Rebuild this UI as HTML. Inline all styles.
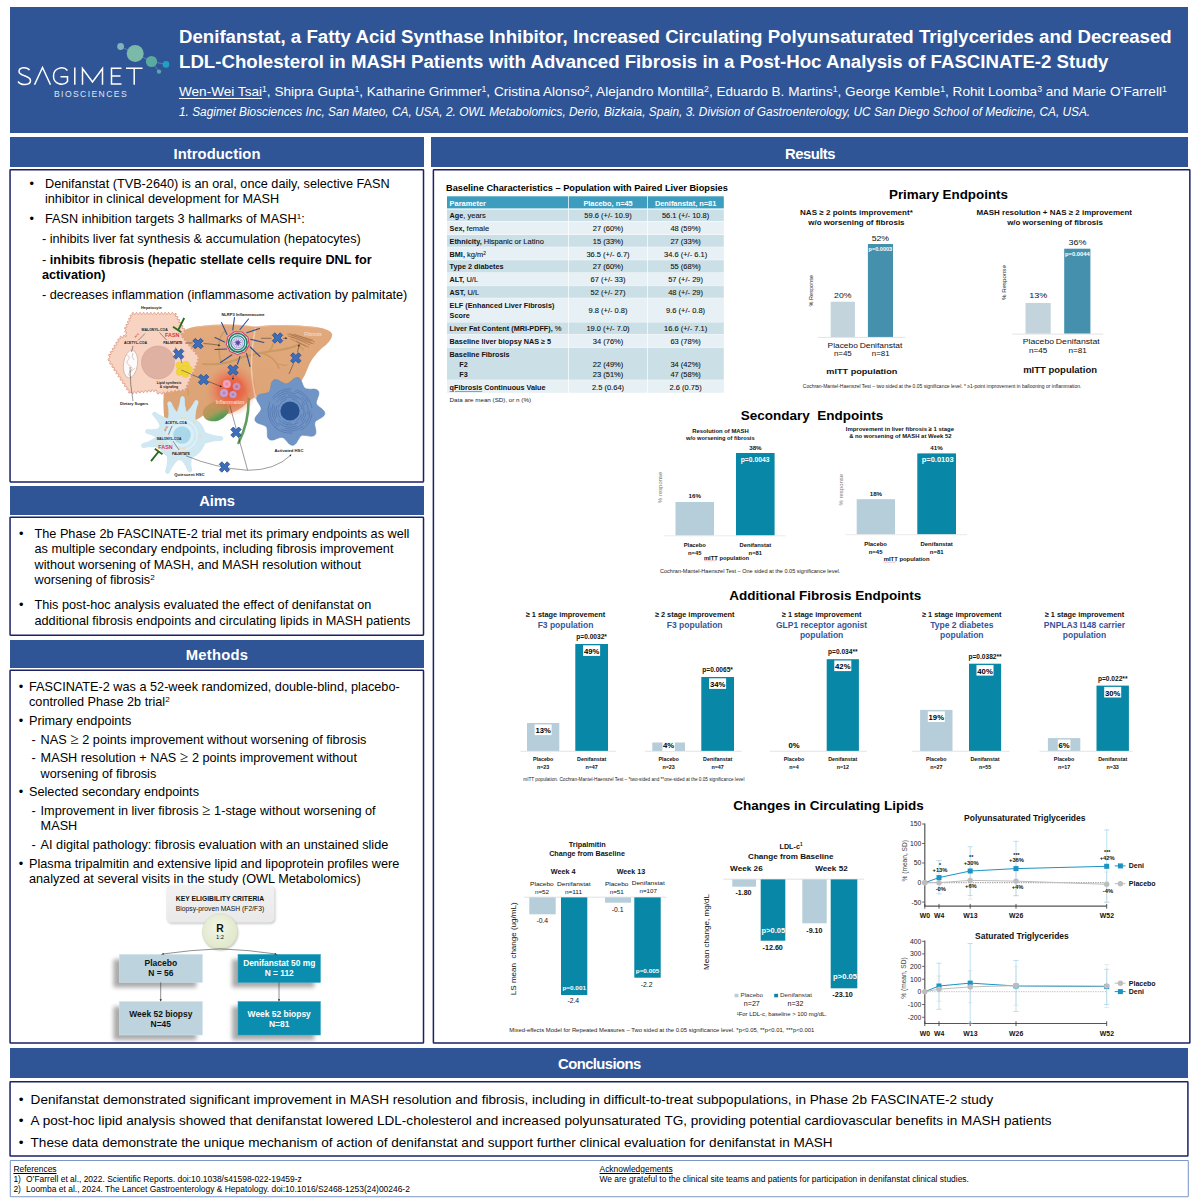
<!DOCTYPE html>
<html><head><meta charset="utf-8"><title>Poster</title>
<style>
html,body{margin:0;padding:0;background:#fff;}
body{width:1200px;height:1200px;position:relative;overflow:hidden;font-family:"Liberation Sans", sans-serif;color:#000;}
sup{font-size:64%;line-height:0;vertical-align:baseline;position:relative;top:-0.46em;}
svg text{font-family:"Liberation Sans", sans-serif;}
</style></head><body>
<div style="position:absolute;left:10px;top:7px;width:1178px;height:126px;background:#2F5597;"></div>
<div style="position:absolute;left:10px;top:137px;width:414px;height:30px;background:#2F5597;"></div>
<div style="position:absolute;left:431px;top:137px;width:757px;height:30px;background:#2F5597;"></div>
<div style="position:absolute;left:10px;top:486px;width:414px;height:28.5px;background:#2F5597;"></div>
<div style="position:absolute;left:10px;top:639.5px;width:414px;height:28.5px;background:#2F5597;"></div>
<div style="position:absolute;left:10px;top:1047.5px;width:1178px;height:30.5px;background:#2F5597;"></div>
<svg style="position:absolute;left:0;top:0" width="1200" height="1200" viewBox="0 0 1200 1200"><rect x="10.05" y="169.75" width="413.45" height="312.15" rx="0.6" fill="none" stroke="#1b2167" stroke-width="1.5"/><rect x="433.4" y="169.75" width="756.45" height="873.35" rx="0.6" fill="none" stroke="#1b2167" stroke-width="1.5"/><rect x="10.05" y="517.3" width="413.45" height="117.9" rx="0.6" fill="none" stroke="#1b2167" stroke-width="1.5"/><rect x="10.05" y="670.3" width="413.45" height="372.8" rx="0.6" fill="none" stroke="#1b2167" stroke-width="1.5"/><rect x="10.05" y="1081.8" width="1177.85" height="74.3" rx="0.6" fill="none" stroke="#1b2167" stroke-width="1.5"/><rect x="10.3" y="1160.5" width="1178" height="36.2" rx="0.6" fill="none" stroke="#7c98c8" stroke-width="1.05"/></svg>
<div style="position:absolute;top:146px;font-size:14.8px;line-height:16px;height:16px;white-space:nowrap;color:#fff;font-weight:bold;letter-spacing:0.06px;left:217px;transform:translateX(-50%);">Introduction</div>
<div style="position:absolute;top:146px;font-size:14.8px;line-height:16px;height:16px;white-space:nowrap;color:#fff;font-weight:bold;letter-spacing:-0.49px;left:810px;transform:translateX(-50%);">Results</div>
<div style="position:absolute;top:493px;font-size:14.8px;line-height:16px;height:16px;white-space:nowrap;color:#fff;font-weight:bold;letter-spacing:-0.17px;left:217px;transform:translateX(-50%);">Aims</div>
<div style="position:absolute;top:647px;font-size:14.8px;line-height:16px;height:16px;white-space:nowrap;color:#fff;font-weight:bold;letter-spacing:0.27px;left:217px;transform:translateX(-50%);">Methods</div>
<div style="position:absolute;top:1056px;font-size:14.8px;line-height:16px;height:16px;white-space:nowrap;color:#fff;font-weight:bold;letter-spacing:-0.55px;left:599.4px;transform:translateX(-50%);">Conclusions</div>
<div style="position:absolute;top:26px;font-size:18.65px;line-height:21px;height:21px;white-space:nowrap;color:#fff;font-weight:bold;left:179px;">Denifanstat, a Fatty Acid Synthase Inhibitor, Increased Circulating Polyunsaturated Triglycerides and Decreased</div>
<div style="position:absolute;top:51px;font-size:18.65px;line-height:21px;height:21px;white-space:nowrap;color:#fff;font-weight:bold;left:179px;">LDL-Cholesterol in MASH Patients with Advanced Fibrosis in a Post-Hoc Analysis of FASCINATE-2 Study</div>
<div style="position:absolute;top:84px;font-size:13.58px;line-height:15px;height:15px;white-space:nowrap;color:#fff;left:179px;"><span style="text-decoration:underline;text-underline-offset:2px">Wen-Wei Tsai</span><sup>1</sup>, Shipra Gupta<sup>1</sup>, Katharine Grimmer<sup>1</sup>, Cristina Alonso<sup>2</sup>, Alejandro Montilla<sup>2</sup>, Eduardo B. Martins<sup>1</sup>, George Kemble<sup>1</sup>, Rohit Loomba<sup>3</sup> and Marie O’Farrell<sup>1</sup></div>
<div style="position:absolute;top:105px;font-size:11.86px;line-height:14px;height:14px;white-space:nowrap;color:#fff;font-style:italic;left:179px;">1. Sagimet Biosciences Inc, San Mateo, CA, USA, 2. OWL Metabolomics, Derio, Bizkaia, Spain, 3. Division of Gastroenterology, UC San Diego School of Medicine, CA, USA.</div>
<svg style="position:absolute;left:0;top:0" width="200" height="135" viewBox="0 0 200 135">
<g stroke="#6aa8b0" stroke-width="0.7" opacity="0.8"><line x1="120.6" y1="46.5" x2="135" y2="53.5"/><line x1="135" y1="53.5" x2="151.5" y2="61.5"/><line x1="151.5" y1="61.5" x2="166" y2="64.4"/><line x1="151.5" y1="61.5" x2="159" y2="71.6"/></g>
<circle cx="120.6" cy="46.5" r="3.4" fill="#7fb4bb"/>
<circle cx="135.2" cy="53.5" r="8.5" fill="#7bb9a8"/>
<circle cx="151.5" cy="61.5" r="5.6" fill="#5aaaa0"/>
<circle cx="166" cy="64.4" r="3.3" fill="#1fa1bf"/>
<circle cx="159" cy="71.6" r="2.2" fill="#5fa6aa"/>
<g fill="none" stroke="#fff" stroke-width="1.5" stroke-linecap="butt" stroke-linejoin="miter">
<path d="M29.5 70.2 C27 66.5 19 66.8 19 71.5 C19 76.5 30.5 75 30.5 80.5 C30.5 85.5 21 85.8 18 81.5"/>
<path d="M34.5 84.8 L42.5 67.5 L50.5 84.8"/>
<path d="M67.5 70.5 C63 65.5 53.5 68 53.5 76 C53.5 84.5 63.5 86.5 67.5 81.5 L67.5 76.8 L60.5 76.8"/>
<path d="M74.8 67.5 L74.8 84.8"/>
<path d="M82.5 84.8 L82.5 68.5 L92.5 82 L102.5 68.5 L102.5 84.8"/>
<path d="M121.5 68.2 L111.5 68.2 L111.5 84 L121.5 84 M111.5 76 L120.5 76"/>
<path d="M126 68.2 L142.5 68.2 M134.2 68.2 L134.2 84.8"/>
</g>
<text x="91" y="97.3" text-anchor="middle" fill="#dfe6f3" font-size="8.6" letter-spacing="1.35" textLength="74" lengthAdjust="spacing">BIOSCIENCES</text>
</svg>
<div style="position:absolute;top:177px;font-size:12.7px;line-height:14px;height:14px;white-space:nowrap;color:#000;left:29.5px;">•</div>
<div style="position:absolute;top:177px;font-size:12.7px;line-height:14px;height:14px;white-space:nowrap;color:#000;left:45px;">Denifanstat (TVB-2640) is an oral, once daily, selective FASN</div>
<div style="position:absolute;top:192px;font-size:12.7px;line-height:14px;height:14px;white-space:nowrap;color:#000;left:45px;">inhibitor in clinical development for MASH</div>
<div style="position:absolute;top:212px;font-size:12.7px;line-height:14px;height:14px;white-space:nowrap;color:#000;left:29.5px;">•</div>
<div style="position:absolute;top:212px;font-size:12.7px;line-height:14px;height:14px;white-space:nowrap;color:#000;left:45px;">FASN inhibition targets 3 hallmarks of MASH<sup>1</sup>:</div>
<div style="position:absolute;top:232px;font-size:12.7px;line-height:14px;height:14px;white-space:nowrap;color:#000;left:42px;">- inhibits liver fat synthesis &amp; accumulation (hepatocytes)</div>
<div style="position:absolute;top:253px;font-size:12.7px;line-height:14px;height:14px;white-space:nowrap;color:#000;left:42px;">- <b>inhibits fibrosis (hepatic stellate cells require DNL for</b></div>
<div style="position:absolute;top:268px;font-size:12.7px;line-height:14px;height:14px;white-space:nowrap;color:#000;font-weight:bold;left:42px;">activation)</div>
<div style="position:absolute;top:288px;font-size:12.7px;line-height:14px;height:14px;white-space:nowrap;color:#000;left:42px;">- decreases inflammation (inflammasome activation by palmitate)</div>
<div style="position:absolute;top:527px;font-size:12.7px;line-height:14px;height:14px;white-space:nowrap;color:#000;left:19px;">•</div>
<div style="position:absolute;top:527px;font-size:12.7px;line-height:14px;height:14px;white-space:nowrap;color:#000;left:34.5px;">The Phase 2b FASCINATE-2 trial met its primary endpoints as well</div>
<div style="position:absolute;top:542px;font-size:12.7px;line-height:14px;height:14px;white-space:nowrap;color:#000;left:34.5px;">as multiple secondary endpoints, including fibrosis improvement</div>
<div style="position:absolute;top:558px;font-size:12.7px;line-height:14px;height:14px;white-space:nowrap;color:#000;left:34.5px;">without worsening of MASH, and MASH resolution without</div>
<div style="position:absolute;top:573px;font-size:12.7px;line-height:14px;height:14px;white-space:nowrap;color:#000;left:34.5px;">worsening of fibrosis<sup>2</sup></div>
<div style="position:absolute;top:598px;font-size:12.7px;line-height:14px;height:14px;white-space:nowrap;color:#000;left:19px;">•</div>
<div style="position:absolute;top:598px;font-size:12.7px;line-height:14px;height:14px;white-space:nowrap;color:#000;left:34.5px;">This post-hoc analysis evaluated the effect of denifanstat on</div>
<div style="position:absolute;top:614px;font-size:12.7px;line-height:14px;height:14px;white-space:nowrap;color:#000;left:34.5px;">additional fibrosis endpoints and circulating lipids in MASH patients</div>
<div style="position:absolute;top:680px;font-size:12.7px;line-height:14px;height:14px;white-space:nowrap;color:#000;left:18.7px;">•</div>
<div style="position:absolute;top:680px;font-size:12.7px;line-height:14px;height:14px;white-space:nowrap;color:#000;left:29px;">FASCINATE-2 was a 52-week randomized, double-blind, placebo-</div>
<div style="position:absolute;top:695px;font-size:12.7px;line-height:14px;height:14px;white-space:nowrap;color:#000;left:29px;">controlled Phase 2b trial<sup>2</sup></div>
<div style="position:absolute;top:714px;font-size:12.7px;line-height:14px;height:14px;white-space:nowrap;color:#000;left:18.7px;">•</div>
<div style="position:absolute;top:714px;font-size:12.7px;line-height:14px;height:14px;white-space:nowrap;color:#000;left:29px;">Primary endpoints</div>
<div style="position:absolute;top:733px;font-size:12.7px;line-height:14px;height:14px;white-space:nowrap;color:#000;left:31.6px;">-</div>
<div style="position:absolute;top:733px;font-size:12.7px;line-height:14px;height:14px;white-space:nowrap;color:#000;left:40.6px;">NAS <span style="font-family:'Liberation Serif',serif;font-size:15.5px;line-height:0">≥</span> 2 points improvement without worsening of fibrosis</div>
<div style="position:absolute;top:751px;font-size:12.7px;line-height:14px;height:14px;white-space:nowrap;color:#000;left:31.6px;">-</div>
<div style="position:absolute;top:751px;font-size:12.7px;line-height:14px;height:14px;white-space:nowrap;color:#000;left:40.6px;">MASH resolution + NAS <span style="font-family:'Liberation Serif',serif;font-size:15.5px;line-height:0">≥</span> 2 points improvement without</div>
<div style="position:absolute;top:767px;font-size:12.7px;line-height:14px;height:14px;white-space:nowrap;color:#000;left:40.6px;">worsening of fibrosis</div>
<div style="position:absolute;top:785px;font-size:12.7px;line-height:14px;height:14px;white-space:nowrap;color:#000;left:18.7px;">•</div>
<div style="position:absolute;top:785px;font-size:12.7px;line-height:14px;height:14px;white-space:nowrap;color:#000;left:29px;">Selected secondary endpoints</div>
<div style="position:absolute;top:804px;font-size:12.7px;line-height:14px;height:14px;white-space:nowrap;color:#000;left:31.6px;">-</div>
<div style="position:absolute;top:804px;font-size:12.7px;line-height:14px;height:14px;white-space:nowrap;color:#000;left:40.6px;">Improvement in liver fibrosis <span style="font-family:'Liberation Serif',serif;font-size:15.5px;line-height:0">≥</span> 1-stage without worsening of</div>
<div style="position:absolute;top:819px;font-size:12.7px;line-height:14px;height:14px;white-space:nowrap;color:#000;left:40.6px;">MASH</div>
<div style="position:absolute;top:838px;font-size:12.7px;line-height:14px;height:14px;white-space:nowrap;color:#000;left:31.6px;">-</div>
<div style="position:absolute;top:838px;font-size:12.7px;line-height:14px;height:14px;white-space:nowrap;color:#000;left:40.6px;">AI digital pathology: fibrosis evaluation with an unstained slide</div>
<div style="position:absolute;top:857px;font-size:12.7px;line-height:14px;height:14px;white-space:nowrap;color:#000;left:18.7px;">•</div>
<div style="position:absolute;top:857px;font-size:12.7px;line-height:14px;height:14px;white-space:nowrap;color:#000;left:29px;">Plasma tripalmitin and extensive lipid and lipoprotein profiles were</div>
<div style="position:absolute;top:872px;font-size:12.7px;line-height:14px;height:14px;white-space:nowrap;color:#000;left:29px;">analyzed at several visits in the study (OWL Metabolomics)</div>
<svg style="position:absolute;left:100px;top:875px" width="240" height="168" viewBox="100 875 240 168">
<defs>
<filter id="sh1" x="-20%" y="-20%" width="140%" height="150%"><feGaussianBlur stdDeviation="1.3"/></filter><filter id="sh2" x="-20%" y="-30%" width="140%" height="160%"><feGaussianBlur stdDeviation="2"/></filter>
<radialGradient id="rg" cx="0.45" cy="0.4" r="0.6"><stop offset="0" stop-color="#f3f6e6"/><stop offset="1" stop-color="#dfe7c9"/></radialGradient>
<linearGradient id="kg" x1="0" y1="0" x2="0" y2="1"><stop offset="0" stop-color="#f2f2f2"/><stop offset="1" stop-color="#e9e9e9"/></linearGradient>
</defs>
<rect x="167.4" y="886.5" width="108" height="37.4" rx="4.5" fill="#000" opacity="0.2" filter="url(#sh1)"/>
<rect x="166.4" y="885" width="108" height="37.4" rx="4.5" fill="url(#kg)"/>
<circle cx="220.6" cy="932.8" r="17.6" fill="#000" opacity="0.25" filter="url(#sh1)"/>
<circle cx="220" cy="931.6" r="17.6" fill="url(#rg)" stroke="#d3dcbc" stroke-width="0.5"/>
<g fill="#000" opacity="0.33" filter="url(#sh2)">
<rect x="113.4" y="959.4" width="83" height="28"/><rect x="232" y="959.4" width="82.4" height="28"/>
<rect x="113.4" y="1006.6" width="83" height="33.4"/><rect x="232" y="1006.6" width="82.4" height="33.4"/>
</g>
<rect x="119.4" y="954.4" width="83" height="28" fill="#bdd4df" stroke="#cfe2ea" stroke-width="0.6"/>
<rect x="238" y="954.4" width="82.4" height="28" fill="#0a8dae" stroke="#36a6c2" stroke-width="0.6"/>
<rect x="119.4" y="1001.6" width="83" height="33.4" fill="#bdd4df" stroke="#cfe2ea" stroke-width="0.6"/>
<rect x="238" y="1001.6" width="82.4" height="33.4" fill="#0a8dae" stroke="#36a6c2" stroke-width="0.6"/>
<g fill="none" stroke="#222" stroke-width="0.5">
<path d="M220 948.8 Q190 950 162.5 954"/><path d="M220 948.8 Q250 950 276 954"/>
<path d="M160.7 982.4 V1000.5"/><path d="M279 982.4 V1000.5"/>
</g>
<g fill="#222"><path d="M161 954.6 l2.6 -1.6 l0.3 1.6z"/><path d="M277.5 954.6 l-2.6 -1.6 l-0.3 1.6z"/><path d="M160.7 1001.6 l-1.1 -2.4 h2.2z"/><path d="M279 1001.6 l-1.1 -2.4 h2.2z"/></g>
<g font-weight="bold" text-anchor="middle">
<text x="220" y="901.4" font-size="6.76" fill="#111">KEY ELIGIBILITY CRITERIA</text>
<text x="220" y="910.6" font-size="6.74" font-weight="normal" fill="#111">Biopsy-proven MASH (F2/F3)</text>
<text x="220" y="931.5" font-size="10.4" fill="#111">R</text>
<text x="220" y="939.4" font-size="5.8" font-weight="normal" fill="#111">1:2</text>
<text x="160.8" y="966" font-size="8.5" fill="#111">Placebo</text>
<text x="160.8" y="976" font-size="8.5" fill="#111">N = 56</text>
<text x="279.2" y="966" font-size="8.4" fill="#fff">Denifanstat 50 mg</text>
<text x="279.2" y="976" font-size="8.4" fill="#fff">N = 112</text>
<text x="160.8" y="1016.6" font-size="8.45" fill="#111">Week 52 biopsy</text>
<text x="160.8" y="1026.6" font-size="8.45" fill="#111">N=45</text>
<text x="279.2" y="1016.6" font-size="8.45" fill="#fff">Week 52 biopsy</text>
<text x="279.2" y="1026.6" font-size="8.45" fill="#fff">N=81</text>
</g>
</svg>
<svg style="position:absolute;left:100px;top:300px" width="240" height="181" viewBox="100 300 240 181">
<defs>
<radialGradient id="infl" cx="0.5" cy="0.5" r="0.5"><stop offset="0" stop-color="#e9492f" stop-opacity="0.95"/><stop offset="0.45" stop-color="#ec5a3c" stop-opacity="0.75"/><stop offset="1" stop-color="#f08060" stop-opacity="0"/></radialGradient>
<linearGradient id="gb" x1="0.3" y1="0" x2="0.6" y2="1"><stop offset="0" stop-color="#c9955c"/><stop offset="0.55" stop-color="#a89a58"/><stop offset="0.8" stop-color="#5f9f57"/><stop offset="1" stop-color="#4f9550"/></linearGradient>
<linearGradient id="lv" x1="0" y1="0" x2="0" y2="1"><stop offset="0" stop-color="#e2a97d"/><stop offset="1" stop-color="#dba274"/></linearGradient>
</defs>
<!-- liver -->
<path d="M170 345 Q176 330 196 326.5 Q225 322.5 252 326.2 Q256 326.8 259 326.3 Q285 323.5 316 327 Q331 329 332.3 334.5 Q332 341 322 348 Q311 358 307 370 Q303 381 296 386 L258 396 Q252 398 247 403 Q238 412 228 414 L204 415 Q200 418 196 420 L164.5 421 Q162 400 165 380 Q166 360 170 345Z" fill="url(#lv)"/>
<path d="M196 327 Q225 323 252 326.5 M259 326.6 Q285 324 316 327.5" fill="none" stroke="#ecbd97" stroke-width="1.2" opacity="0.8"/>
<!-- veins -->
<g fill="none" stroke="#cb9a60" stroke-linecap="round">
<path d="M203 364 Q225 366 243 357 Q262 352 280 350 Q292 348 300 344" stroke-width="2"/>
<path d="M262 353 Q275 357 279 368" stroke-width="1.7"/>
<path d="M273 344 Q272 349 268 352" stroke-width="1.4"/>
<path d="M225 331 Q219 336 219 346 Q219 356 221 362" stroke-width="1.6"/>
<path d="M279 364 Q284 366 287 365" stroke-width="1.2"/>
<path d="M300 347 Q304 349 303 350" stroke-width="1.2"/>
<path d="M186 385 Q189 390 188 395" stroke-width="1.2"/>
</g>
<path d="M255.5 328 Q251 350 251.5 370 Q252 385 256 399" fill="none" stroke="#f1cbb0" stroke-width="1.4"/>
<!-- gallbladder + duct -->
<ellipse cx="215.8" cy="411.3" rx="13.2" ry="9.6" transform="rotate(-18 215.8 411.3)" fill="url(#gb)"/>
<path d="M248.6 399 Q249 422 238.5 443" fill="none" stroke="#5f9e5c" stroke-width="2.6" stroke-linecap="round"/>
<path d="M233 374 Q246 384 247.5 402" fill="none" stroke="#d98a5c" stroke-width="2" opacity="0.55"/>
<!-- inflammation glow -->
<circle cx="231.5" cy="390" r="26" fill="url(#infl)"/>
<circle cx="226.8" cy="384" r="4" fill="#f2a3bd" stroke="#e58fb0" stroke-width="0.4"/><circle cx="226.8" cy="384" r="1.7" fill="#ea7fa6" opacity="0.7"/>
<circle cx="236.6" cy="386.5" r="3.8" fill="#cf95b8" stroke="#c183ac" stroke-width="0.4"/><circle cx="236.6" cy="386.5" r="1.6" fill="#a86aa0" opacity="0.7"/>
<circle cx="224" cy="393" r="4" fill="#c9a3cf" stroke="#b890c2" stroke-width="0.4"/><circle cx="224" cy="393" r="1.7" fill="#a67cb6" opacity="0.7"/>
<circle cx="233" cy="394.5" r="3.5" fill="#c2a2d3" stroke="#b08fc6" stroke-width="0.4"/><circle cx="233" cy="394.5" r="1.5" fill="#9a78bd" opacity="0.7"/>
<!-- hepatocyte -->
<path d="M132.0 313.5 L132.6 312.5 L133.2 312.5 L133.8 313.5 L134.4 314.5 L135.0 314.5 L135.6 313.5 L136.2 312.5 L136.8 312.5 L137.4 313.5 L138.0 314.5 L138.6 314.5 L139.2 313.5 L139.8 312.5 L140.4 312.5 L141.0 313.5 L141.6 314.5 L142.2 314.5 L142.8 313.5 L143.3 312.5 L143.9 312.5 L144.5 313.5 L145.1 314.5 L145.7 314.5 L146.3 313.5 L146.9 312.5 L147.5 312.5 L148.1 313.5 L148.7 314.5 L149.3 314.5 L149.9 313.5 L150.5 312.5 L151.1 312.5 L151.7 313.5 L152.3 314.5 L152.9 314.5 L153.5 313.5 L154.1 312.5 L154.7 312.5 L155.3 313.5 L155.9 314.5 L156.5 314.5 L157.1 313.5 L157.7 312.5 L158.3 312.5 L158.9 313.5 L159.5 314.5 L160.1 314.5 L160.7 313.5 L161.3 312.5 L161.9 312.5 L162.5 313.5 L163.1 314.5 L163.7 314.5 L164.2 313.5 L164.8 312.5 L165.4 312.5 L166.0 313.5 L166.6 314.5 L167.2 314.5 L167.8 313.5 L168.4 312.5 L169.0 312.5 L169.6 313.5 L170.2 314.5 L170.8 314.5 L171.4 313.5 L172.0 312.5 L172.6 312.5 L173.2 313.5 L173.8 314.5 L174.4 314.5 L175.0 313.5 L176.1 313.5 L176.4 314.0 L175.8 315.0 L175.3 316.0 L175.6 316.5 L176.7 316.5 L177.8 316.5 L178.1 317.0 L177.5 318.0 L176.9 319.0 L177.2 319.5 L178.3 319.5 L179.4 319.5 L179.7 320.0 L179.2 321.0 L178.6 322.0 L178.9 322.5 L180.0 322.5 L181.1 322.5 L181.4 323.0 L180.8 324.0 L180.3 325.0 L180.6 325.5 L181.7 325.5 L182.8 325.5 L183.1 326.0 L182.5 327.0 L181.9 328.0 L182.2 328.5 L183.3 328.5 L184.4 328.5 L184.7 329.0 L184.2 330.0 L183.6 331.0 L183.9 331.5 L185.0 331.5 L185.0 332.8 L184.3 333.4 L183.0 333.2 L181.7 333.1 L181.0 333.7 L181.0 335.0 L182.1 334.9 L182.5 335.3 L182.1 336.4 L181.8 337.4 L182.1 337.9 L183.2 337.8 L184.4 337.6 L184.7 338.1 L184.4 339.1 L184.0 340.2 L184.4 340.6 L185.5 340.5 L186.6 340.4 L187.0 340.8 L186.6 341.9 L186.3 342.9 L186.6 343.4 L187.8 343.2 L188.9 343.1 L189.2 343.6 L188.9 344.6 L188.5 345.7 L188.9 346.1 L190.0 346.0 L191.1 345.9 L191.5 346.3 L191.1 347.4 L190.8 348.4 L191.1 348.9 L192.2 348.8 L193.4 348.6 L193.7 349.1 L193.4 350.1 L193.0 351.2 L193.4 351.6 L194.5 351.5 L195.6 351.4 L196.0 351.8 L195.6 352.9 L195.3 353.9 L195.6 354.4 L196.8 354.2 L197.9 354.1 L198.2 354.6 L197.9 355.6 L197.5 356.7 L197.9 357.1 L199.0 357.0 L199.7 357.8 L199.6 358.4 L198.5 358.8 L197.4 359.1 L197.3 359.7 L198.0 360.5 L198.7 361.3 L198.6 361.9 L197.5 362.2 L196.4 362.6 L196.3 363.2 L197.0 364.0 L197.6 364.9 L197.4 365.5 L196.3 365.6 L195.2 365.8 L194.9 366.3 L195.6 367.2 L196.2 368.2 L196.0 368.7 L194.8 368.9 L193.7 369.0 L193.5 369.6 L194.1 370.5 L194.8 371.4 L194.5 372.0 L193.4 372.1 L192.3 372.3 L192.1 372.8 L192.7 373.8 L193.3 374.7 L193.1 375.2 L192.0 375.4 L190.9 375.5 L190.6 376.1 L191.2 377.0 L191.9 377.9 L191.6 378.5 L190.5 378.6 L189.4 378.8 L189.2 379.3 L189.8 380.2 L190.4 381.2 L190.2 381.7 L189.1 381.9 L188.0 382.0 L187.7 382.6 L188.4 383.5 L189.0 384.4 L188.8 385.0 L187.7 385.1 L186.5 385.3 L186.3 385.8 L186.9 386.8 L187.6 387.7 L187.3 388.2 L186.2 388.4 L185.1 388.5 L184.9 389.1 L185.5 390.0 L185.0 391.0 L184.4 391.1 L183.6 390.2 L182.9 389.4 L182.2 389.5 L181.7 390.5 L181.2 391.5 L180.6 391.6 L179.8 390.8 L179.1 389.9 L178.4 390.0 L177.9 391.0 L177.4 392.0 L176.8 392.1 L176.0 391.2 L175.3 390.4 L174.6 390.5 L174.1 391.5 L173.6 392.5 L173.0 392.6 L172.2 391.8 L171.5 390.9 L170.9 391.0 L170.4 392.0 L169.9 393.0 L169.2 393.1 L168.5 392.2 L167.7 391.4 L167.1 391.5 L166.6 392.5 L166.1 393.5 L165.4 393.6 L164.7 392.8 L163.9 391.9 L163.3 392.0 L162.8 393.0 L162.3 394.0 L161.6 394.1 L160.9 393.2 L160.1 392.4 L159.5 392.5 L159.0 393.5 L157.8 393.8 L157.1 393.3 L157.0 392.0 L156.9 390.7 L156.2 390.2 L155.0 390.5 L154.5 391.5 L153.9 391.6 L153.2 390.7 L152.5 389.8 L151.9 389.8 L151.4 390.9 L150.9 391.9 L150.3 391.9 L149.6 391.0 L149.0 390.1 L148.4 390.2 L147.9 391.2 L147.4 392.2 L146.8 392.3 L146.1 391.4 L145.4 390.5 L144.8 390.6 L144.3 391.6 L143.8 392.6 L143.2 392.6 L142.5 391.8 L141.8 390.9 L141.2 390.9 L140.7 391.9 L140.2 392.9 L139.6 393.0 L138.9 392.1 L138.2 391.2 L137.6 391.3 L137.1 392.3 L136.6 393.3 L136.0 393.4 L135.4 392.5 L134.7 391.6 L134.1 391.6 L133.6 392.6 L133.1 393.7 L132.5 393.7 L131.8 392.8 L131.1 391.9 L130.5 392.0 L130.0 393.0 L128.9 393.0 L128.5 392.5 L128.9 391.4 L129.4 390.3 L129.0 389.8 L127.9 389.8 L126.8 389.8 L126.4 389.3 L126.8 388.2 L127.3 387.1 L126.9 386.6 L125.8 386.6 L124.7 386.6 L124.3 386.1 L124.8 385.0 L125.2 383.9 L124.8 383.4 L123.7 383.4 L122.6 383.4 L122.2 382.9 L122.7 381.8 L123.1 380.7 L122.7 380.2 L121.6 380.2 L120.5 380.2 L120.1 379.7 L120.5 378.6 L121.0 377.5 L120.6 377.0 L119.5 377.0 L118.4 377.0 L118.0 376.5 L118.5 375.4 L118.9 374.3 L118.5 373.8 L117.4 373.8 L116.3 373.8 L115.9 373.3 L116.3 372.2 L116.8 371.1 L116.4 370.6 L115.3 370.6 L114.2 370.6 L113.8 370.1 L114.2 369.0 L114.7 367.9 L114.3 367.4 L113.2 367.4 L112.1 367.4 L111.7 366.9 L112.2 365.8 L112.6 364.7 L112.2 364.2 L111.1 364.2 L110.0 364.2 L109.6 363.7 L110.0 362.6 L110.5 361.5 L110.1 361.0 L109.0 361.0 L108.0 360.2 L108.0 359.3 L109.0 358.5 L110.0 357.7 L110.0 356.8 L109.0 356.0 L108.5 355.0 L108.8 354.5 L109.9 354.5 L111.0 354.4 L111.3 353.9 L110.8 352.9 L110.3 351.9 L110.6 351.4 L111.8 351.4 L112.9 351.3 L113.2 350.8 L112.7 349.8 L112.2 348.8 L112.5 348.3 L113.6 348.3 L114.7 348.3 L115.0 347.8 L114.5 346.8 L114.0 345.7 L114.3 345.2 L115.4 345.2 L116.5 345.2 L116.8 344.7 L116.3 343.7 L115.8 342.7 L116.1 342.2 L117.2 342.1 L118.4 342.1 L118.7 341.6 L118.2 340.6 L117.7 339.6 L118.0 339.1 L119.1 339.0 L120.2 339.0 L120.5 338.5 L120.0 337.5 L120.3 336.4 L120.8 336.3 L121.6 337.0 L122.4 337.7 L123.0 337.6 L123.2 336.5 L123.5 335.4 L124.1 335.3 L124.9 336.0 L125.7 336.7 L126.2 336.6 L126.5 335.5 L125.4 335.2 L125.3 334.6 L126.1 333.9 L126.9 333.1 L126.8 332.6 L125.8 332.2 L124.7 331.9 L124.6 331.4 L125.4 330.6 L126.2 329.9 L126.1 329.3 L125.0 329.0 L124.4 328.1 L124.6 327.6 L125.7 327.4 L126.8 327.3 L127.0 326.8 L126.4 325.9 L125.8 325.0 L126.0 324.5 L127.1 324.4 L128.2 324.2 L128.4 323.7 L127.8 322.8 L127.2 321.9 L127.4 321.4 L128.5 321.2 L129.6 321.1 L129.8 320.6 L129.2 319.7 L128.6 318.8 L128.8 318.3 L129.9 318.1 L131.0 318.0 L131.2 317.5 L130.6 316.6 L130.0 315.7 L130.2 315.2 L131.3 315.1 L132.4 314.9 L132.6 314.4Z" fill="#f8d3c2" stroke="#dc9c83" stroke-width="0.9" stroke-linejoin="round"/>
<circle cx="158" cy="362.5" r="16.5" fill="#deb1a3" stroke="#d3a294" stroke-width="0.6"/>
<ellipse cx="130.5" cy="364" rx="7" ry="14" transform="rotate(8 130.5 364)" fill="#fdfafa" stroke="#c9aaa2" stroke-width="0.7"/>
<path d="M127 355 q4 2 1 5 q-3 3 2 6 q4 2 0 6 q-3 3 2 6 M133 353 q-2 4 1 7 M129 372 q4 -1 6 -4" fill="none" stroke="#c9aaa2" stroke-width="0.6"/>
<g fill="#f1d53d" stroke="#e3c22e" stroke-width="0.3"><circle cx="179.5" cy="365.5" r="3.6"/><circle cx="186" cy="364.8" r="3.5"/><circle cx="189" cy="369.5" r="3.6"/><circle cx="179.6" cy="372" r="3.6"/><circle cx="185.5" cy="374" r="3.6"/><circle cx="184" cy="369" r="3.4"/></g>
<!-- quiescent HSC -->
<g fill="#cfe8f2" stroke="#b9dcea" stroke-width="0.5"><path d="M191.7 423.6 Q184.1 410.9 184.4 398.6 A1.9 1.9 0 0 0 180.6 398.4 Q179.6 410.6 170.7 422.5Z"/><path d="M195.9 428.6 Q193.5 414.1 198.2 402.8 A1.9 1.9 0 0 0 194.8 401.2 Q189.3 412.2 176.8 419.9Z"/><path d="M194.1 448.0 Q207.7 440.3 220.9 440.4 A1.9 1.9 0 0 0 221.1 436.6 Q207.8 435.7 194.9 427.0Z"/><path d="M174.1 453.3 Q184.8 461.1 188.0 471.0 A1.9 1.9 0 0 0 191.6 470.0 Q189.2 459.9 194.4 447.7Z"/><path d="M165.7 446.4 Q169.4 460.0 165.7 470.8 A1.9 1.9 0 0 0 169.3 472.2 Q173.7 461.6 185.4 453.8Z"/><path d="M164.5 429.9 Q154.7 440.6 143.1 443.6 A1.9 1.9 0 0 0 143.9 447.4 Q155.7 445.0 169.2 450.4Z"/><path d="M168.4 424.3 Q157.5 430.9 147.8 429.6 A1.9 1.9 0 0 0 147.2 433.4 Q156.7 435.3 165.0 445.1Z"/><path d="M177.0 419.9 Q163.8 419.2 155.8 412.6 A1.9 1.9 0 0 0 153.2 415.4 Q160.7 422.6 163.1 435.6Z"/><path d="M186.1 420.4 Q175.0 412.9 171.3 402.9 A1.9 1.9 0 0 0 167.7 404.1 Q170.6 414.3 166.2 427.0Z"/><ellipse cx="181" cy="437.5" rx="24.5" ry="22.5"/></g>
<g fill="#cfe8f2"><path d="M191.7 423.6 Q184.1 410.9 184.4 398.6 A1.9 1.9 0 0 0 180.6 398.4 Q179.6 410.6 170.7 422.5Z"/><path d="M195.9 428.6 Q193.5 414.1 198.2 402.8 A1.9 1.9 0 0 0 194.8 401.2 Q189.3 412.2 176.8 419.9Z"/><path d="M194.1 448.0 Q207.7 440.3 220.9 440.4 A1.9 1.9 0 0 0 221.1 436.6 Q207.8 435.7 194.9 427.0Z"/><path d="M174.1 453.3 Q184.8 461.1 188.0 471.0 A1.9 1.9 0 0 0 191.6 470.0 Q189.2 459.9 194.4 447.7Z"/><path d="M165.7 446.4 Q169.4 460.0 165.7 470.8 A1.9 1.9 0 0 0 169.3 472.2 Q173.7 461.6 185.4 453.8Z"/><path d="M164.5 429.9 Q154.7 440.6 143.1 443.6 A1.9 1.9 0 0 0 143.9 447.4 Q155.7 445.0 169.2 450.4Z"/><path d="M168.4 424.3 Q157.5 430.9 147.8 429.6 A1.9 1.9 0 0 0 147.2 433.4 Q156.7 435.3 165.0 445.1Z"/><path d="M177.0 419.9 Q163.8 419.2 155.8 412.6 A1.9 1.9 0 0 0 153.2 415.4 Q160.7 422.6 163.1 435.6Z"/><path d="M186.1 420.4 Q175.0 412.9 171.3 402.9 A1.9 1.9 0 0 0 167.7 404.1 Q170.6 414.3 166.2 427.0Z"/><ellipse cx="181" cy="437.5" rx="24.2" ry="22.2"/></g>
<circle cx="182" cy="435" r="15" fill="none" stroke="#dff1f8" stroke-width="1.6" opacity="0.9"/>
<circle cx="182" cy="435" r="12" fill="#dcf0f8" opacity="0.85"/>
<circle cx="182" cy="435" r="8.8" fill="#aad7ea"/>
<g fill="#f6d9b5" opacity="0.9"><circle cx="194.5" cy="422" r="1.5"/><circle cx="185" cy="418.5" r="1.2"/><circle cx="200.5" cy="436" r="1.3"/><circle cx="162" cy="443" r="1.6"/><circle cx="168" cy="434.5" r="1.3"/><circle cx="179.5" cy="449" r="1.4"/><circle cx="184" cy="449" r="1.4"/><circle cx="182" cy="418" r="1"/></g>
<!-- activated HSC -->
<path d="M324.0 411.0 L324.6 412.2 L324.8 413.4 L324.6 414.6 L323.9 415.7 L322.8 416.7 L321.5 417.6 L320.0 418.4 L318.7 419.2 L317.5 419.9 L316.5 420.6 L315.7 421.3 L315.1 422.1 L314.8 423.0 L314.7 424.1 L314.8 425.3 L315.0 426.6 L315.3 428.0 L315.7 429.6 L315.9 431.1 L315.9 432.6 L315.6 433.9 L314.9 434.9 L313.9 435.7 L312.7 436.1 L311.2 436.3 L309.6 436.1 L307.9 435.8 L306.4 435.6 L305.0 435.4 L303.8 435.3 L302.6 435.3 L301.7 435.6 L300.8 436.1 L300.1 436.8 L299.4 437.8 L298.7 439.0 L297.9 440.2 L297.2 441.6 L296.3 443.0 L295.3 444.1 L294.2 444.9 L293.0 445.3 L291.8 445.2 L290.5 444.8 L289.3 444.0 L288.2 442.9 L287.1 441.6 L286.1 440.5 L285.2 439.5 L284.3 438.6 L283.4 437.9 L282.5 437.5 L281.5 437.4 L280.4 437.5 L279.2 437.8 L277.9 438.3 L276.5 438.7 L275.0 439.4 L273.4 439.9 L271.9 440.1 L270.6 440.0 L269.4 439.6 L268.5 438.8 L267.8 437.6 L267.4 436.3 L267.3 434.7 L267.3 433.1 L267.3 431.6 L267.2 430.2 L267.1 429.0 L266.9 427.9 L266.5 427.1 L265.8 426.3 L264.9 425.8 L263.8 425.3 L262.5 424.8 L261.1 424.3 L259.5 423.8 L258.0 423.2 L256.7 422.5 L255.7 421.6 L255.1 420.5 L254.9 419.3 L255.2 418.0 L255.8 416.7 L256.7 415.4 L257.8 414.2 L258.8 413.1 L259.6 412.0 L260.4 411.0 L260.9 410.0 L261.1 409.1 L261.1 408.1 L260.8 407.1 L260.3 406.0 L259.6 404.9 L258.9 403.7 L258.0 402.3 L257.2 400.9 L256.7 399.5 L256.5 398.2 L256.8 397.0 L257.4 396.0 L258.5 395.1 L259.8 394.5 L261.4 394.1 L263.0 393.9 L264.5 393.6 L265.9 393.3 L267.1 393.0 L268.2 392.6 L269.0 392.0 L269.6 391.3 L270.0 390.3 L270.4 389.1 L270.6 387.8 L270.9 386.4 L271.1 384.8 L271.4 383.3 L271.9 381.9 L272.7 380.8 L273.7 380.0 L274.9 379.6 L276.2 379.7 L277.7 380.0 L279.1 380.7 L280.6 381.5 L281.9 382.2 L283.1 382.9 L284.3 383.4 L285.3 383.7 L286.3 383.8 L287.3 383.6 L288.3 383.2 L289.3 382.5 L290.4 381.6 L291.5 380.7 L292.7 379.6 L294.0 378.6 L295.3 377.9 L296.6 377.5 L297.9 377.6 L299.1 378.0 L300.1 378.9 L300.9 380.0 L301.6 381.4 L302.2 383.0 L302.7 384.4 L303.2 385.6 L303.8 386.7 L304.4 387.7 L305.1 388.3 L306.0 388.8 L307.0 389.0 L308.2 389.1 L309.6 389.2 L311.1 389.2 L312.7 389.1 L314.4 389.1 L315.9 389.4 L317.1 389.9 L318.1 390.7 L318.7 391.8 L318.9 393.1 L318.8 394.5 L318.4 396.0 L317.8 397.6 L317.3 398.9 L316.8 400.2 L316.5 401.4 L316.3 402.5 L316.4 403.5 L316.8 404.4 L317.4 405.2 L318.3 406.0 L319.4 406.9 L320.5 407.8 L321.8 408.8 L323.0 409.9Z" fill="#7194c6" stroke="#6388bc" stroke-width="0.6"/>
<g fill="none" stroke="#587cb3" stroke-width="0.9" stroke-linecap="round"><path d="M291.1 423.2 A12.2 12.2 0 0 1 283.1 421.0"/><path d="M280.2 418.2 A12.2 12.2 0 0 1 277.9 409.8"/><path d="M278.5 407.0 A12.2 12.2 0 0 1 286.2 399.4"/><path d="M292.2 399.0 A12.2 12.2 0 0 1 302.1 409.2"/><path d="M301.6 414.6 A12.2 12.2 0 0 1 295.7 421.8"/><path d="M287.6 425.0 A14.2 14.2 0 0 1 278.8 419.7"/><path d="M277.0 416.7 A14.2 14.2 0 0 1 276.7 405.9"/><path d="M280.8 400.2 A14.2 14.2 0 0 1 297.5 398.9"/><path d="M302.1 403.6 A14.2 14.2 0 0 1 301.0 420.0"/><path d="M298.2 422.6 A14.2 14.2 0 0 1 286.6 424.8"/><path d="M288.2 394.9 A16.2 16.2 0 0 1 304.9 404.7"/><path d="M306.1 412.4 A16.2 16.2 0 0 1 301.7 422.2"/><path d="M296.4 425.9 A16.2 16.2 0 0 1 279.2 423.1"/><path d="M275.6 418.4 A16.2 16.2 0 0 1 274.4 406.6"/><path d="M277.0 401.4 A16.2 16.2 0 0 1 285.9 395.3"/><path d="M302.1 397.4 A18.2 18.2 0 0 1 307.9 414.5"/><path d="M306.0 419.7 A18.2 18.2 0 0 1 285.4 428.6"/><path d="M279.1 425.6 A18.2 18.2 0 0 1 273.1 404.3"/><path d="M278.0 397.3 A18.2 18.2 0 0 1 295.2 393.6"/><path d="M273.6 399.2 A20.2 20.2 0 0 1 290.0 390.8"/><path d="M295.2 391.5 A20.2 20.2 0 0 1 308.1 402.0"/><path d="M310.2 411.1 A20.2 20.2 0 0 1 306.1 423.2"/><path d="M303.0 426.5 A20.2 20.2 0 0 1 282.0 429.6"/><path d="M276.9 426.4 A20.2 20.2 0 0 1 270.1 407.7"/><path d="M277.8 429.5 A22.2 22.2 0 0 1 269.6 402.2"/><path d="M272.7 397.1 A22.2 22.2 0 0 1 290.9 388.8"/><path d="M296.9 389.9 A22.2 22.2 0 0 1 312.0 407.7"/><path d="M312.0 414.3 A22.2 22.2 0 0 1 301.3 430.1"/><path d="M292.0 433.1 A22.2 22.2 0 0 1 274.5 426.9"/></g>
<circle cx="290" cy="411" r="9.6" fill="#25508d"/>
<!-- NLRP3 -->
<g stroke="#2f4f99" stroke-width="1.1" stroke-linecap="round"><line x1="221.5" y1="322.5" x2="227" y2="334.5"/><line x1="234.5" y1="317.5" x2="232.8" y2="330"/><line x1="248.5" y1="319" x2="240" y2="329.5"/><line x1="259.5" y1="328.5" x2="246.8" y2="332.8"/><line x1="263.8" y1="342.5" x2="250.5" y2="339.2"/><line x1="260" y1="356.5" x2="250.2" y2="347"/><line x1="250" y1="366.5" x2="246.5" y2="353.5"/><line x1="237.5" y1="364" x2="240" y2="356.5"/><line x1="220.5" y1="362.5" x2="232" y2="354.8"/><line x1="215" y1="349.5" x2="226.5" y2="349"/><line x1="215" y1="337.5" x2="224.5" y2="342"/></g>
<path d="M249.17 345.10 L245.03 351.87 L237.50 354.40 L230.12 351.49 L226.33 344.52 L227.91 336.75 L234.11 331.80 L242.04 332.00 L247.99 337.26Z" fill="#fbeff2" stroke="#d0406e" stroke-width="1.1"/>
<circle cx="237.8" cy="342.8" r="9.3" fill="#e9f3ef" stroke="#1c7a64" stroke-width="1.6"/>
<circle cx="237.8" cy="342.8" r="7" fill="#f4f1fa" stroke="#2a8f86" stroke-width="1.2"/>
<circle cx="237.8" cy="342.8" r="5.2" fill="#e4dcf3" stroke="#7b66bd" stroke-width="0.5"/>
<path d="M242.40 342.80 L239.32 343.29 L241.52 345.50 L238.74 344.09 L239.22 347.17 L237.80 344.40 L236.38 347.17 L236.86 344.09 L234.08 345.50 L236.28 343.29 L233.20 342.80 L236.28 342.31 L234.08 340.10 L236.86 341.51 L236.38 338.43 L237.80 341.20 L239.22 338.43 L238.74 341.51 L241.52 340.10 L239.32 342.31Z" fill="#5b44a8"/>
<!-- fibrosis hatch -->
<g stroke="#8a5a30" stroke-width="0.45" fill="none" opacity="0.9">
<path d="M287 334 L311 341 M289 333.5 L313 340 M288 336 L312 343.5 M291 336.5 L310 345 M290 338.5 L306 346.5 M294 334 L315 342 M296 341 L309 347.5 M292 335 L314 344"/>
</g>
<!-- arrows thin -->
<g fill="none" stroke="#222" stroke-width="0.45">
<path d="M185 343 H192.5 M203.5 343.5 Q212 344 219.5 345.3"/>
<path d="M261 338.3 H271.5 M283 338.3 H286.5"/>
<path d="M289 374 L293.5 363.5 M297.5 352.5 L299 345"/>
<path d="M175.5 347.5 L176.5 350 M180.5 358.5 L182 363"/>
<path d="M181.5 370 L198.5 377.5 M208.5 381.5 L221 386.5"/>
<path d="M233 375.5 V379"/>
<path d="M229.8 405.5 L247.6 470.2"/>
<path d="M186 455.8 Q215 468 247.6 470.3 Q275 470.5 291 455"/>
<path d="M133 346 L131.5 352 M130 367 Q130 385 133 401"/>
<path d="M138 340.5 L145 333.5 M159.5 332.5 L166.5 340"/>
<path d="M172 426 L168.5 434.5 M173 441 L179 450"/>
</g>
<g fill="#222"><path d="M220.5 345.4 l-2.2 -1.2 l-0.2 1.9z"/><path d="M287.5 338.3 l-2.2 -1 v2z"/><path d="M299.2 344 l-1.4 2 l1.9 0.4z"/><path d="M222 386.9 l-2.3 0.1 l0.8 -1.8z"/><path d="M233 380 l-1 -2.1 h2z"/><path d="M291.5 454.5 l-2.2 0.6 l1.3 1.4z"/></g>
<!-- green T inhibitors -->
<g stroke="#2d6b1f" stroke-width="1.9" stroke-linecap="butt" fill="none">
<path d="M184.2 318 L178.6 329.3 M173 326.8 L181.3 332.2"/>
<path d="M151 461.2 L158.3 452 M154.8 448.8 L162.5 454.3"/>
</g>
<!-- X marks -->
<g fill="#3b6fbb" stroke="#27488a" stroke-width="0.7" stroke-linejoin="miter"><path transform="translate(198 343.6) rotate(45)" d="M-1.8 -5.6 H1.8 V-1.8 H5.6 V1.8 H1.8 V5.6 H-1.8 V1.8 H-5.6 V-1.8 H-1.8Z"/><path transform="translate(178.6 354) rotate(45)" d="M-1.8 -5.6 H1.8 V-1.8 H5.6 V1.8 H1.8 V5.6 H-1.8 V1.8 H-5.6 V-1.8 H-1.8Z"/><path transform="translate(203.6 379.6) rotate(45)" d="M-1.8 -5.6 H1.8 V-1.8 H5.6 V1.8 H1.8 V5.6 H-1.8 V1.8 H-5.6 V-1.8 H-1.8Z"/><path transform="translate(233 370) rotate(45)" d="M-1.8 -5.6 H1.8 V-1.8 H5.6 V1.8 H1.8 V5.6 H-1.8 V1.8 H-5.6 V-1.8 H-1.8Z"/><path transform="translate(277.5 338) rotate(45)" d="M-1.8 -5.6 H1.8 V-1.8 H5.6 V1.8 H1.8 V5.6 H-1.8 V1.8 H-5.6 V-1.8 H-1.8Z"/><path transform="translate(295.8 358) rotate(45)" d="M-1.8 -5.6 H1.8 V-1.8 H5.6 V1.8 H1.8 V5.6 H-1.8 V1.8 H-5.6 V-1.8 H-1.8Z"/><path transform="translate(236 432.3) rotate(45)" d="M-1.8 -5.6 H1.8 V-1.8 H5.6 V1.8 H1.8 V5.6 H-1.8 V1.8 H-5.6 V-1.8 H-1.8Z"/><path transform="translate(224.5 467) rotate(45)" d="M-1.8 -5.6 H1.8 V-1.8 H5.6 V1.8 H1.8 V5.6 H-1.8 V1.8 H-5.6 V-1.8 H-1.8Z"/></g>
<!-- labels -->
<g font-weight="bold" fill="#1a1a1a" text-anchor="middle" font-size="3.9">
<text x="151.5" y="308.9">Hepatocyte</text>
<text x="243" y="316.2" font-size="4.1">NLRP3 Inflammasome</text>
<text x="154.7" y="331.4" font-size="3.5">MALONYL-COA</text>
<text x="135.5" y="344.1" font-size="3.5">ACETYL-COA</text>
<text x="172.8" y="344.1" font-size="3.5">PALMITATE</text>
<text x="172.2" y="337.4" font-size="5.4" fill="#d23a3a">FASN</text>
<text x="169" y="383.8" font-size="3.4">Lipid synthesis</text>
<text x="169" y="388.3" font-size="3.4">&amp; signaling</text>
<text x="134" y="405.4" font-size="4">Dietary Sugars</text>
<text x="176" y="423.6" font-size="3.3">ACETYL-COA</text>
<text x="169" y="440" font-size="3.3">MALONYL-COA</text>
<text x="181" y="454.5" font-size="3.3">PALMITATE</text>
<text x="165.5" y="449" font-size="5.4" fill="#d23a3a">FASN</text>
<text x="189.5" y="475.8" font-size="4.2">Quiescent HSC</text>
<text x="289" y="452.2" font-size="4.2">Activated HSC</text>
<text x="313" y="336.2" font-size="5" font-weight="normal" fill="#f6e3d2">Fibrosis</text>
<text x="230" y="403.8" font-size="5" font-weight="normal" fill="#fbe9e0">Inflammation</text>
<text x="137.5" y="336" font-size="2.6" fill="#d23a3a" transform="rotate(-45 137.5 336)">ACC</text>
<text x="167" y="429" font-size="2.6" fill="#d23a3a" transform="rotate(-60 167 429)">ACC</text>
</g>
</svg>
<div style="position:absolute;top:183px;font-size:9.21px;line-height:10px;height:10px;white-space:nowrap;color:#000;font-weight:bold;left:446px;">Baseline Characteristics – Population with Paired Liver Biopsies</div>
<svg style="position:absolute;left:0;top:0" width="1200" height="1200" viewBox="0 0 1200 1200"><rect x="447" y="196.3" width="121.15" height="12.1" fill="#3d9dbf"/><rect x="568.85" y="196.3" width="78.2" height="12.1" fill="#3d9dbf"/><rect x="647.75" y="196.3" width="76.05" height="12.1" fill="#3d9dbf"/><rect x="447" y="209.5" width="121.15" height="11.6" fill="#cbdfe6"/><rect x="568.85" y="209.5" width="78.2" height="11.6" fill="#cbdfe6"/><rect x="647.75" y="209.5" width="76.05" height="11.6" fill="#cbdfe6"/><rect x="447" y="221.6" width="121.15" height="12.9" fill="#e7f0f4"/><rect x="568.85" y="221.6" width="78.2" height="12.9" fill="#e7f0f4"/><rect x="647.75" y="221.6" width="76.05" height="12.9" fill="#e7f0f4"/><rect x="447" y="235.0" width="121.15" height="11.8" fill="#cbdfe6"/><rect x="568.85" y="235.0" width="78.2" height="11.8" fill="#cbdfe6"/><rect x="647.75" y="235.0" width="76.05" height="11.8" fill="#cbdfe6"/><rect x="447" y="247.2" width="121.15" height="12.6" fill="#e7f0f4"/><rect x="568.85" y="247.2" width="78.2" height="12.6" fill="#e7f0f4"/><rect x="647.75" y="247.2" width="76.05" height="12.6" fill="#e7f0f4"/><rect x="447" y="260.2" width="121.15" height="12.3" fill="#cbdfe6"/><rect x="568.85" y="260.2" width="78.2" height="12.3" fill="#cbdfe6"/><rect x="647.75" y="260.2" width="76.05" height="12.3" fill="#cbdfe6"/><rect x="447" y="272.9" width="121.15" height="12.9" fill="#e7f0f4"/><rect x="568.85" y="272.9" width="78.2" height="12.9" fill="#e7f0f4"/><rect x="647.75" y="272.9" width="76.05" height="12.9" fill="#e7f0f4"/><rect x="447" y="286.1" width="121.15" height="11.7" fill="#cbdfe6"/><rect x="568.85" y="286.1" width="78.2" height="11.7" fill="#cbdfe6"/><rect x="647.75" y="286.1" width="76.05" height="11.7" fill="#cbdfe6"/><rect x="447" y="298.2" width="121.15" height="23.9" fill="#e7f0f4"/><rect x="568.85" y="298.2" width="78.2" height="23.9" fill="#e7f0f4"/><rect x="647.75" y="298.2" width="76.05" height="23.9" fill="#e7f0f4"/><rect x="447" y="322.4" width="121.15" height="11.8" fill="#cbdfe6"/><rect x="568.85" y="322.4" width="78.2" height="11.8" fill="#cbdfe6"/><rect x="647.75" y="322.4" width="76.05" height="11.8" fill="#cbdfe6"/><rect x="447" y="334.5" width="121.15" height="12.9" fill="#e7f0f4"/><rect x="568.85" y="334.5" width="78.2" height="12.9" fill="#e7f0f4"/><rect x="647.75" y="334.5" width="76.05" height="12.9" fill="#e7f0f4"/><rect x="447" y="347.8" width="121.15" height="31.9" fill="#cbdfe6"/><rect x="568.85" y="347.8" width="78.2" height="31.9" fill="#cbdfe6"/><rect x="647.75" y="347.8" width="76.05" height="31.9" fill="#cbdfe6"/><rect x="447" y="380.1" width="121.15" height="12.7" fill="#e7f0f4"/><rect x="568.85" y="380.1" width="78.2" height="12.7" fill="#e7f0f4"/><rect x="647.75" y="380.1" width="76.05" height="12.7" fill="#e7f0f4"/></svg>
<div style="position:absolute;top:199px;font-size:7.45px;line-height:9px;height:9px;white-space:nowrap;color:#fff;font-weight:bold;left:449.6px;">Parameter</div>
<div style="position:absolute;top:199px;font-size:7.35px;line-height:9px;height:9px;white-space:nowrap;color:#fff;font-weight:bold;left:608px;transform:translateX(-50%);">Placebo, n=45</div>
<div style="position:absolute;top:199px;font-size:7.4px;line-height:9px;height:9px;white-space:nowrap;color:#fff;font-weight:bold;left:685.6px;transform:translateX(-50%);"><span style="text-decoration:underline;text-decoration-color:#e27d7a;text-decoration-thickness:0.4px;text-underline-offset:1px">Denifanstat</span>, n=81</div>
<div style="position:absolute;top:211px;font-size:7.25px;line-height:9px;height:9px;white-space:nowrap;color:#111;left:449.6px;"><b>Age</b><span style="font-size:7.5px;-webkit-text-stroke:0.09px #111">, years</span></div>
<div style="position:absolute;top:211px;font-size:7.5px;line-height:9px;height:9px;white-space:nowrap;color:#111;left:608px;transform:translateX(-50%);-webkit-text-stroke:0.09px #111;">59.6 (+/- 10.9)</div>
<div style="position:absolute;top:211px;font-size:7.5px;line-height:9px;height:9px;white-space:nowrap;color:#111;left:685.6px;transform:translateX(-50%);-webkit-text-stroke:0.09px #111;">56.1 (+/- 10.8)</div>
<div style="position:absolute;top:224px;font-size:7.25px;line-height:9px;height:9px;white-space:nowrap;color:#111;left:449.6px;"><b>Sex,</b><span style="font-size:7.5px;-webkit-text-stroke:0.09px #111"> female</span></div>
<div style="position:absolute;top:224px;font-size:7.5px;line-height:9px;height:9px;white-space:nowrap;color:#111;left:608px;transform:translateX(-50%);-webkit-text-stroke:0.09px #111;">27 (60%)</div>
<div style="position:absolute;top:224px;font-size:7.5px;line-height:9px;height:9px;white-space:nowrap;color:#111;left:685.6px;transform:translateX(-50%);-webkit-text-stroke:0.09px #111;">48 (59%)</div>
<div style="position:absolute;top:237px;font-size:7.25px;line-height:9px;height:9px;white-space:nowrap;color:#111;left:449.6px;"><b>Ethnicity,</b><span style="font-size:7.5px;-webkit-text-stroke:0.09px #111"> Hispanic or Latino</span></div>
<div style="position:absolute;top:237px;font-size:7.5px;line-height:9px;height:9px;white-space:nowrap;color:#111;left:608px;transform:translateX(-50%);-webkit-text-stroke:0.09px #111;">15 (33%)</div>
<div style="position:absolute;top:237px;font-size:7.5px;line-height:9px;height:9px;white-space:nowrap;color:#111;left:685.6px;transform:translateX(-50%);-webkit-text-stroke:0.09px #111;">27 (33%)</div>
<div style="position:absolute;top:250px;font-size:7.25px;line-height:9px;height:9px;white-space:nowrap;color:#111;left:449.6px;"><b>BMI,</b><span style="font-size:7.5px;-webkit-text-stroke:0.09px #111"> kg/m<sup>2</sup></span></div>
<div style="position:absolute;top:250px;font-size:7.5px;line-height:9px;height:9px;white-space:nowrap;color:#111;left:608px;transform:translateX(-50%);-webkit-text-stroke:0.09px #111;">36.5 (+/- 6.7)</div>
<div style="position:absolute;top:250px;font-size:7.5px;line-height:9px;height:9px;white-space:nowrap;color:#111;left:685.6px;transform:translateX(-50%);-webkit-text-stroke:0.09px #111;">34.6 (+/- 6.1)</div>
<div style="position:absolute;top:262px;font-size:7.25px;line-height:9px;height:9px;white-space:nowrap;color:#111;left:449.6px;"><b>Type 2 diabetes</b><span style="font-size:7.5px;-webkit-text-stroke:0.09px #111"></span></div>
<div style="position:absolute;top:262px;font-size:7.5px;line-height:9px;height:9px;white-space:nowrap;color:#111;left:608px;transform:translateX(-50%);-webkit-text-stroke:0.09px #111;">27 (60%)</div>
<div style="position:absolute;top:262px;font-size:7.5px;line-height:9px;height:9px;white-space:nowrap;color:#111;left:685.6px;transform:translateX(-50%);-webkit-text-stroke:0.09px #111;">55 (68%)</div>
<div style="position:absolute;top:275px;font-size:7.25px;line-height:9px;height:9px;white-space:nowrap;color:#111;left:449.6px;"><b>ALT,</b><span style="font-size:7.5px;-webkit-text-stroke:0.09px #111"> U/L</span></div>
<div style="position:absolute;top:275px;font-size:7.5px;line-height:9px;height:9px;white-space:nowrap;color:#111;left:608px;transform:translateX(-50%);-webkit-text-stroke:0.09px #111;">67 (+/- 33)</div>
<div style="position:absolute;top:275px;font-size:7.5px;line-height:9px;height:9px;white-space:nowrap;color:#111;left:685.6px;transform:translateX(-50%);-webkit-text-stroke:0.09px #111;">57 (+/- 29)</div>
<div style="position:absolute;top:288px;font-size:7.25px;line-height:9px;height:9px;white-space:nowrap;color:#111;left:449.6px;"><b>AST,</b><span style="font-size:7.5px;-webkit-text-stroke:0.09px #111"> U/L</span></div>
<div style="position:absolute;top:288px;font-size:7.5px;line-height:9px;height:9px;white-space:nowrap;color:#111;left:608px;transform:translateX(-50%);-webkit-text-stroke:0.09px #111;">52 (+/- 27)</div>
<div style="position:absolute;top:288px;font-size:7.5px;line-height:9px;height:9px;white-space:nowrap;color:#111;left:685.6px;transform:translateX(-50%);-webkit-text-stroke:0.09px #111;">48 (+/- 29)</div>
<div style="position:absolute;top:301px;font-size:7.25px;line-height:9px;height:9px;white-space:nowrap;color:#111;left:449.6px;"><b>ELF (Enhanced Liver Fibrosis)</b><span style="font-size:7.5px;-webkit-text-stroke:0.09px #111"></span></div>
<div style="position:absolute;top:311px;font-size:7.25px;line-height:9px;height:9px;white-space:nowrap;color:#111;left:449.6px;"><b>Score</b><span style="font-size:7.5px;-webkit-text-stroke:0.09px #111"></span></div>
<div style="position:absolute;top:306px;font-size:7.5px;line-height:9px;height:9px;white-space:nowrap;color:#111;left:608px;transform:translateX(-50%);-webkit-text-stroke:0.09px #111;">9.8 (+/- 0.8)</div>
<div style="position:absolute;top:306px;font-size:7.5px;line-height:9px;height:9px;white-space:nowrap;color:#111;left:685.6px;transform:translateX(-50%);-webkit-text-stroke:0.09px #111;">9.6 (+/- 0.8)</div>
<div style="position:absolute;top:324px;font-size:7.25px;line-height:9px;height:9px;white-space:nowrap;color:#111;left:449.6px;"><b>Liver Fat Content (MRI-PDFF),</b><span style="font-size:7.5px;-webkit-text-stroke:0.09px #111"> %</span></div>
<div style="position:absolute;top:324px;font-size:7.5px;line-height:9px;height:9px;white-space:nowrap;color:#111;left:608px;transform:translateX(-50%);-webkit-text-stroke:0.09px #111;">19.0 (+/- 7.0)</div>
<div style="position:absolute;top:324px;font-size:7.5px;line-height:9px;height:9px;white-space:nowrap;color:#111;left:685.6px;transform:translateX(-50%);-webkit-text-stroke:0.09px #111;">16.6 (+/- 7.1)</div>
<div style="position:absolute;top:337px;font-size:7.25px;line-height:9px;height:9px;white-space:nowrap;color:#111;left:449.6px;"><b>Baseline liver biopsy NAS ≥ 5</b><span style="font-size:7.5px;-webkit-text-stroke:0.09px #111"></span></div>
<div style="position:absolute;top:337px;font-size:7.5px;line-height:9px;height:9px;white-space:nowrap;color:#111;left:608px;transform:translateX(-50%);-webkit-text-stroke:0.09px #111;">34 (76%)</div>
<div style="position:absolute;top:337px;font-size:7.5px;line-height:9px;height:9px;white-space:nowrap;color:#111;left:685.6px;transform:translateX(-50%);-webkit-text-stroke:0.09px #111;">63 (78%)</div>
<div style="position:absolute;top:350px;font-size:7.25px;line-height:9px;height:9px;white-space:nowrap;color:#111;left:449.6px;"><b>Baseline Fibrosis</b><span style="font-size:7.5px;-webkit-text-stroke:0.09px #111"></span></div>
<div style="position:absolute;top:360px;font-size:7.25px;line-height:9px;height:9px;white-space:nowrap;color:#111;font-weight:bold;left:459.3px;">F2</div>
<div style="position:absolute;top:360px;font-size:7.5px;line-height:9px;height:9px;white-space:nowrap;color:#111;left:608px;transform:translateX(-50%);-webkit-text-stroke:0.09px #111;">22 (49%)</div>
<div style="position:absolute;top:360px;font-size:7.5px;line-height:9px;height:9px;white-space:nowrap;color:#111;left:685.6px;transform:translateX(-50%);-webkit-text-stroke:0.09px #111;">34 (42%)</div>
<div style="position:absolute;top:370px;font-size:7.25px;line-height:9px;height:9px;white-space:nowrap;color:#111;font-weight:bold;left:459.3px;">F3</div>
<div style="position:absolute;top:370px;font-size:7.5px;line-height:9px;height:9px;white-space:nowrap;color:#111;left:608px;transform:translateX(-50%);-webkit-text-stroke:0.09px #111;">23 (51%)</div>
<div style="position:absolute;top:370px;font-size:7.5px;line-height:9px;height:9px;white-space:nowrap;color:#111;left:685.6px;transform:translateX(-50%);-webkit-text-stroke:0.09px #111;">47 (58%)</div>
<div style="position:absolute;top:383px;font-size:7.25px;line-height:9px;height:9px;white-space:nowrap;color:#111;left:449.6px;"><b><span style="text-decoration:underline;text-decoration-color:#e27d7a;text-decoration-thickness:0.4px;text-underline-offset:1px">qFibrosis</span> Continuous Value</b></div>
<div style="position:absolute;top:383px;font-size:7.5px;line-height:9px;height:9px;white-space:nowrap;color:#111;left:608px;transform:translateX(-50%);-webkit-text-stroke:0.09px #111;">2.5 (0.64)</div>
<div style="position:absolute;top:383px;font-size:7.5px;line-height:9px;height:9px;white-space:nowrap;color:#111;left:685.6px;transform:translateX(-50%);-webkit-text-stroke:0.09px #111;">2.6 (0.75)</div>
<div style="position:absolute;top:396px;font-size:6.24px;line-height:7px;height:7px;white-space:nowrap;color:#222;left:449.6px;">Data are mean (SD), or n (%)</div>
<div style="position:absolute;top:187px;font-size:13.4px;line-height:15px;height:15px;white-space:nowrap;color:#000;font-weight:bold;left:948.5px;transform:translateX(-50%);">Primary Endpoints</div>
<div style="position:absolute;top:408px;font-size:13.5px;line-height:15px;height:15px;white-space:nowrap;color:#000;font-weight:bold;left:812px;transform:translateX(-50%);">Secondary  Endpoints</div>
<div style="position:absolute;top:588px;font-size:13.5px;line-height:15px;height:15px;white-space:nowrap;color:#000;font-weight:bold;left:825.3px;transform:translateX(-50%);">Additional Fibrosis Endpoints</div>
<div style="position:absolute;top:798px;font-size:13.5px;line-height:15px;height:15px;white-space:nowrap;color:#000;font-weight:bold;left:828.6px;transform:translateX(-50%);">Changes in Circulating Lipids</div>
<svg style="position:absolute;left:0;top:0" width="1200" height="1200" viewBox="0 0 1200 1200"><text x="856.4" y="214.8" font-size="7.3" font-weight="bold" text-anchor="middle" fill="#111" textLength="112.8" lengthAdjust="spacingAndGlyphs">NAS ≥ 2 points improvement*</text>
<text x="856.4" y="224.9" font-size="7.3" font-weight="bold" text-anchor="middle" fill="#111" textLength="96.3" lengthAdjust="spacingAndGlyphs">w/o worsening of fibrosis</text>
<rect x="830.7" y="301.7" width="24.2" height="35.4" fill="#c4d4dd"/>
<rect x="867.9" y="244" width="25.1" height="93.1" fill="#4591ad"/>
<line x1="817.9" y1="337.4" x2="905.1" y2="337.4" stroke="#dcdcdc" stroke-width="0.8"/>
<text x="880.4" y="240.5" font-size="7.8" text-anchor="middle" fill="#111" textLength="17.4" lengthAdjust="spacingAndGlyphs">52%</text>
<text x="842.8" y="297.7" font-size="7.8" text-anchor="middle" fill="#111" textLength="17.4" lengthAdjust="spacingAndGlyphs">20%</text>
<text x="880.4" y="251" font-size="4.7" font-weight="bold" text-anchor="middle" fill="#fff" textLength="23.6" lengthAdjust="spacingAndGlyphs">p=0.0003</text>
<text transform="translate(813 290.7) rotate(-90)" text-anchor="middle" font-size="5.5" textLength="31.5" lengthAdjust="spacingAndGlyphs" fill="#222">% Response</text>
<text x="842.7" y="347.7" font-size="7.6" text-anchor="middle" fill="#111" textLength="30.2" lengthAdjust="spacingAndGlyphs">Placebo</text>
<text x="881" y="347.7" font-size="7.6" text-anchor="middle" fill="#111" textLength="42.7" lengthAdjust="spacingAndGlyphs">Denifanstat</text>
<text x="842.8" y="355.6" font-size="7.3" text-anchor="middle" fill="#111" textLength="17.8" lengthAdjust="spacingAndGlyphs">n=45</text>
<text x="880.7" y="355.6" font-size="7.3" text-anchor="middle" fill="#111" textLength="17.8" lengthAdjust="spacingAndGlyphs">n=81</text>
<text x="861.8" y="373.8" font-size="8.0" font-weight="bold" text-anchor="middle" fill="#111" textLength="71" lengthAdjust="spacingAndGlyphs">mITT population</text>
<text x="802.8" y="387.5" font-size="4.99" fill="#222">Cochran-Mantel-Haenszel Test – two sided at the 0.05 significance level. * ≥1-point improvement in ballooning or inflammation.</text>
<text x="1054.2" y="214.5" font-size="7.3" font-weight="bold" text-anchor="middle" fill="#111" textLength="155.6" lengthAdjust="spacingAndGlyphs">MASH resolution + NAS ≥ 2 improvement</text>
<text x="1055" y="224.5" font-size="7.3" font-weight="bold" text-anchor="middle" fill="#111" textLength="95.7" lengthAdjust="spacingAndGlyphs">w/o worsening of fibrosis</text>
<rect x="1025.5" y="303" width="25.2" height="30.7" fill="#c4d4dd"/>
<rect x="1064.2" y="248.7" width="26.2" height="85.0" fill="#4591ad"/>
<line x1="1012.2" y1="334.1" x2="1103.3" y2="334.1" stroke="#dcdcdc" stroke-width="0.8"/>
<text x="1077.6" y="244.7" font-size="8.0" text-anchor="middle" fill="#111" textLength="18" lengthAdjust="spacingAndGlyphs">36%</text>
<text x="1038.2" y="298.2" font-size="8.0" text-anchor="middle" fill="#111" textLength="18" lengthAdjust="spacingAndGlyphs">13%</text>
<text x="1077.4" y="256" font-size="4.9" font-weight="bold" text-anchor="middle" fill="#fff" textLength="24.8" lengthAdjust="spacingAndGlyphs">p=0.0044</text>
<text transform="translate(1006.3 282.6) rotate(-90)" text-anchor="middle" font-size="5.9" textLength="34.8" lengthAdjust="spacingAndGlyphs" fill="#222">% Response</text>
<text x="1038.4" y="344.4" font-size="7.8" text-anchor="middle" fill="#111" textLength="31.2" lengthAdjust="spacingAndGlyphs">Placebo</text>
<text x="1077.8" y="344.4" font-size="7.8" text-anchor="middle" fill="#111" textLength="44" lengthAdjust="spacingAndGlyphs">Denifanstat</text>
<text x="1038.2" y="353.2" font-size="7.5" text-anchor="middle" fill="#111" textLength="18.4" lengthAdjust="spacingAndGlyphs">n=45</text>
<text x="1077.6" y="353.2" font-size="7.5" text-anchor="middle" fill="#111" textLength="18.4" lengthAdjust="spacingAndGlyphs">n=81</text>
<text x="1060.1" y="373" font-size="8.3" font-weight="bold" text-anchor="middle" fill="#111" textLength="73.8" lengthAdjust="spacingAndGlyphs">mITT population</text>
<text x="720.5" y="432.9" font-size="5.9" font-weight="bold" text-anchor="middle" fill="#111">Resolution of MASH</text>
<text x="720.3" y="439.8" font-size="5.7" font-weight="bold" text-anchor="middle" fill="#111">w/o worsening of fibrosis</text>
<rect x="675.5" y="502" width="38.5" height="33.5" fill="#b6ceda"/>
<rect x="736" y="453" width="38.6" height="82.5" fill="#0887a6"/>
<line x1="664.2" y1="535.8" x2="785.7" y2="535.8" stroke="#e3e3e3" stroke-width="0.8"/>
<text x="755.4" y="449.5" font-size="6.2" font-weight="bold" text-anchor="middle" fill="#111">38%</text>
<text x="694.7" y="498.4" font-size="6.2" font-weight="bold" text-anchor="middle" fill="#111">16%</text>
<text x="755.1" y="462" font-size="6.75" font-weight="bold" text-anchor="middle" fill="#fff">p=0.0043</text>
<text transform="translate(662.2 487.4) rotate(-90)" text-anchor="middle" font-size="5.9" fill="#777">% response</text>
<text x="694.8" y="546.7" font-size="5.8" font-weight="bold" text-anchor="middle" fill="#111">Placebo</text>
<text x="694.7" y="554.7" font-size="5.8" font-weight="bold" text-anchor="middle" fill="#111">n=45</text>
<text x="755.3" y="546.7" font-size="5.8" font-weight="bold" text-anchor="middle" fill="#111">Denifanstat</text>
<text x="755.3" y="554.7" font-size="5.8" font-weight="bold" text-anchor="middle" fill="#111">n=81</text>
<text x="726.5" y="559.5" font-size="5.8" font-weight="bold" text-anchor="middle" fill="#111">mITT population</text>
<path d="M704 560.6 q0.7 -0.9 1.4 0 t1.4 0 t1.4 0 t1.4 0 t1.4 0 t1.4 0 t1.4 0 t1.4 0 t1.4 0" fill="none" stroke="#d9534f" stroke-width="0.4"/>
<text x="660" y="573.3" font-size="5.55" fill="#222">Cochran-Mantel-Haenszel Test – One sided at the 0.05 significance level.</text>
<text x="899.9" y="430.5" font-size="5.95" font-weight="bold" text-anchor="middle" fill="#111">Improvement in liver fibrosis ≥ 1 stage</text>
<text x="900.3" y="437.7" font-size="5.9" font-weight="bold" text-anchor="middle" fill="#111">&amp; no worsening of MASH at Week 52</text>
<rect x="856.7" y="499.2" width="38.3" height="35.2" fill="#b6ceda"/>
<rect x="917.3" y="453.4" width="38.7" height="81.0" fill="#0887a6"/>
<line x1="845.4" y1="534.7" x2="967.2" y2="534.7" stroke="#e3e3e3" stroke-width="0.8"/>
<text x="936.5" y="449.7" font-size="6.2" font-weight="bold" text-anchor="middle" fill="#111">41%</text>
<text x="875.9" y="495.7" font-size="6.2" font-weight="bold" text-anchor="middle" fill="#111">18%</text>
<text x="937.7" y="462" font-size="7.5" font-weight="bold" text-anchor="middle" fill="#fff">p=0.0103</text>
<text transform="translate(842.9 489.7) rotate(-90)" text-anchor="middle" font-size="6.0" fill="#777">% response</text>
<text x="875.6" y="545.7" font-size="5.95" font-weight="bold" text-anchor="middle" fill="#111">Placebo</text>
<text x="875.6" y="553.8" font-size="5.95" font-weight="bold" text-anchor="middle" fill="#111">n=45</text>
<text x="936.7" y="545.7" font-size="5.95" font-weight="bold" text-anchor="middle" fill="#111">Denifanstat</text>
<text x="936.7" y="553.8" font-size="5.95" font-weight="bold" text-anchor="middle" fill="#111">n=81</text>
<text x="906.6" y="561" font-size="5.9" font-weight="bold" text-anchor="middle" fill="#111">mITT population</text>
<path d="M883.7 562.1 q0.7 -0.9 1.4 0 t1.4 0 t1.4 0 t1.4 0 t1.4 0 t1.4 0 t1.4 0 t1.4 0 t1.4 0" fill="none" stroke="#d9534f" stroke-width="0.4"/>
<text x="565.5" y="617.3" font-size="7.35" font-weight="bold" text-anchor="middle" fill="#111">≥ 1 stage improvement</text>
<text x="565.5" y="627.5" font-size="8.5" font-weight="bold" text-anchor="middle" fill="#34569b">F3 population</text>
<rect x="527" y="723" width="32.3" height="28" fill="#b6ceda"/>
<rect x="575.3" y="644" width="32.7" height="107" fill="#0887a6"/>
<line x1="520.3" y1="751.3" x2="615.8" y2="751.3" stroke="#dedede" stroke-width="0.8"/>
<rect x="583.1" y="645.3" width="17.0" height="10.6" fill="#fff"/>
<text x="591.65" y="653.9" font-size="7.7" font-weight="bold" text-anchor="middle" fill="#000">49%</text>
<rect x="534.6" y="724.5" width="17.0" height="10.6" fill="#fff"/>
<text x="543.15" y="733.1" font-size="7.7" font-weight="bold" text-anchor="middle" fill="#000">13%</text>
<text x="591.65" y="639.2" font-size="6.6" font-weight="bold" text-anchor="middle" fill="#111">p=0.0032*</text>
<text x="543.15" y="760.6" font-size="5.35" font-weight="bold" text-anchor="middle" fill="#111">Placebo</text>
<text x="543.15" y="768.5" font-size="5.35" font-weight="bold" text-anchor="middle" fill="#111">n=23</text>
<text x="591.65" y="760.6" font-size="5.35" font-weight="bold" text-anchor="middle" fill="#111">Denifanstat</text>
<text x="591.65" y="768.5" font-size="5.35" font-weight="bold" text-anchor="middle" fill="#111">n=47</text>
<text x="694.7" y="617.3" font-size="7.35" font-weight="bold" text-anchor="middle" fill="#111">≥ 2 stage improvement</text>
<text x="694.7" y="627.5" font-size="8.5" font-weight="bold" text-anchor="middle" fill="#34569b">F3 population</text>
<rect x="652.3" y="742.5" width="32.7" height="8.5" fill="#b6ceda"/>
<rect x="701.3" y="677" width="32.7" height="74" fill="#0887a6"/>
<line x1="644.9" y1="751.3" x2="741.8" y2="751.3" stroke="#dedede" stroke-width="0.8"/>
<rect x="709.1" y="678.3" width="17.0" height="10.6" fill="#fff"/>
<text x="717.65" y="686.9" font-size="7.7" font-weight="bold" text-anchor="middle" fill="#000">34%</text>
<rect x="662.4" y="742.3" width="12.5" height="8.7" fill="#fff"/>
<text x="668.65" y="747.8" font-size="7.7" font-weight="bold" text-anchor="middle" fill="#000">4%</text>
<text x="717.65" y="672.2" font-size="6.6" font-weight="bold" text-anchor="middle" fill="#111">p=0.0065*</text>
<text x="668.65" y="760.6" font-size="5.35" font-weight="bold" text-anchor="middle" fill="#111">Placebo</text>
<text x="668.65" y="768.5" font-size="5.35" font-weight="bold" text-anchor="middle" fill="#111">n=23</text>
<text x="717.65" y="760.6" font-size="5.35" font-weight="bold" text-anchor="middle" fill="#111">Denifanstat</text>
<text x="717.65" y="768.5" font-size="5.35" font-weight="bold" text-anchor="middle" fill="#111">n=47</text>
<text x="821.6" y="617.3" font-size="7.35" font-weight="bold" text-anchor="middle" fill="#111">≥ 1 stage improvement</text>
<text x="821.6" y="627.5" font-size="8.5" font-weight="bold" text-anchor="middle" fill="#34569b">GLP1 receptor agonist</text>
<text x="821.6" y="637.7" font-size="8.5" font-weight="bold" text-anchor="middle" fill="#34569b">population</text>
<rect x="826.7" y="659.2" width="32.2" height="91.8" fill="#0887a6"/>
<line x1="770" y1="751.3" x2="867" y2="751.3" stroke="#dedede" stroke-width="0.8"/>
<rect x="834.3" y="660.5" width="17.0" height="10.6" fill="#fff"/>
<text x="842.8" y="669.1" font-size="7.7" font-weight="bold" text-anchor="middle" fill="#000">42%</text>
<text x="794.0" y="747.8" font-size="7.7" font-weight="bold" text-anchor="middle" fill="#000">0%</text>
<text x="842.8" y="654.2" font-size="6.6" font-weight="bold" text-anchor="middle" fill="#111">p=0.034**</text>
<text x="794.0" y="760.6" font-size="5.35" font-weight="bold" text-anchor="middle" fill="#111">Placebo</text>
<text x="794.0" y="768.5" font-size="5.35" font-weight="bold" text-anchor="middle" fill="#111">n=4</text>
<text x="842.8" y="760.6" font-size="5.35" font-weight="bold" text-anchor="middle" fill="#111">Denifanstat</text>
<text x="842.8" y="768.5" font-size="5.35" font-weight="bold" text-anchor="middle" fill="#111">n=12</text>
<text x="961.8" y="617.3" font-size="7.35" font-weight="bold" text-anchor="middle" fill="#111">≥ 1 stage improvement</text>
<text x="961.8" y="627.5" font-size="8.5" font-weight="bold" text-anchor="middle" fill="#34569b">Type 2 diabetes</text>
<text x="961.8" y="637.7" font-size="8.5" font-weight="bold" text-anchor="middle" fill="#34569b">population</text>
<rect x="920.1" y="709.9" width="32.4" height="41.1" fill="#b6ceda"/>
<rect x="969" y="663.7" width="32.1" height="87.3" fill="#0887a6"/>
<line x1="912" y1="751.3" x2="1009.5" y2="751.3" stroke="#dedede" stroke-width="0.8"/>
<rect x="976.5" y="665.0" width="17.0" height="10.6" fill="#fff"/>
<text x="985.05" y="673.6" font-size="7.7" font-weight="bold" text-anchor="middle" fill="#000">40%</text>
<rect x="927.8" y="711.4" width="17.0" height="10.6" fill="#fff"/>
<text x="936.3" y="720.0" font-size="7.7" font-weight="bold" text-anchor="middle" fill="#000">19%</text>
<text x="985.05" y="658.7" font-size="6.6" font-weight="bold" text-anchor="middle" fill="#111">p=0.0382**</text>
<text x="936.3" y="760.6" font-size="5.35" font-weight="bold" text-anchor="middle" fill="#111">Placebo</text>
<text x="936.3" y="768.5" font-size="5.35" font-weight="bold" text-anchor="middle" fill="#111">n=27</text>
<text x="985.05" y="760.6" font-size="5.35" font-weight="bold" text-anchor="middle" fill="#111">Denifanstat</text>
<text x="985.05" y="768.5" font-size="5.35" font-weight="bold" text-anchor="middle" fill="#111">n=55</text>
<text x="1084.5" y="617.3" font-size="7.35" font-weight="bold" text-anchor="middle" fill="#111">≥ 1 stage improvement</text>
<text x="1084.5" y="627.5" font-size="8.5" font-weight="bold" text-anchor="middle" fill="#34569b">PNPLA3 I148 carrier</text>
<text x="1084.5" y="637.7" font-size="8.5" font-weight="bold" text-anchor="middle" fill="#34569b">population</text>
<rect x="1047.9" y="738.1" width="32.4" height="12.9" fill="#b6ceda"/>
<rect x="1096.5" y="685.6" width="32.4" height="65.4" fill="#0887a6"/>
<line x1="1039.5" y1="751.3" x2="1132.5" y2="751.3" stroke="#dedede" stroke-width="0.8"/>
<rect x="1104.2" y="686.9" width="17.0" height="10.6" fill="#fff"/>
<text x="1112.7" y="695.5" font-size="7.7" font-weight="bold" text-anchor="middle" fill="#000">30%</text>
<rect x="1057.8" y="739.6" width="12.6" height="10.6" fill="#fff"/>
<text x="1064.1" y="748.2" font-size="7.7" font-weight="bold" text-anchor="middle" fill="#000">6%</text>
<text x="1112.7" y="680.6" font-size="6.6" font-weight="bold" text-anchor="middle" fill="#111">p=0.022**</text>
<text x="1064.1" y="760.6" font-size="5.35" font-weight="bold" text-anchor="middle" fill="#111">Placebo</text>
<text x="1064.1" y="768.5" font-size="5.35" font-weight="bold" text-anchor="middle" fill="#111">n=17</text>
<text x="1112.7" y="760.6" font-size="5.35" font-weight="bold" text-anchor="middle" fill="#111">Denifanstat</text>
<text x="1112.7" y="768.5" font-size="5.35" font-weight="bold" text-anchor="middle" fill="#111">n=33</text>
<text x="523.3" y="780.5" font-size="4.68" fill="#222">mITT population. Cochran-Mantel-Haenszel Test – *two-sided and **one-sided at the 0.05 significance level</text>
<text x="587.3" y="847" font-size="6.4" font-weight="bold" text-anchor="middle" fill="#111" textLength="37" lengthAdjust="spacingAndGlyphs">Tripalmitin</text>
<text x="587.1" y="856.3" font-size="6.4" font-weight="bold" text-anchor="middle" fill="#111" textLength="75.8" lengthAdjust="spacingAndGlyphs">Change from Baseline</text>
<text x="563.1" y="874.4" font-size="6.8" font-weight="bold" text-anchor="middle" fill="#111" textLength="24.8" lengthAdjust="spacingAndGlyphs">Week 4</text>
<text x="631" y="874.4" font-size="6.8" font-weight="bold" text-anchor="middle" fill="#111" textLength="28.5" lengthAdjust="spacingAndGlyphs">Week 13</text>
<text x="541.9" y="886" font-size="5.9" text-anchor="middle" fill="#111" textLength="23.7" lengthAdjust="spacingAndGlyphs">Placebo</text>
<text x="542" y="893.8" font-size="6.0" text-anchor="middle" fill="#111" textLength="14.2" lengthAdjust="spacingAndGlyphs">n=52</text>
<text x="573.8" y="885.5" font-size="5.9" text-anchor="middle" fill="#111" textLength="33.5" lengthAdjust="spacingAndGlyphs">Denifanstat</text>
<text x="573.5" y="893.8" font-size="6.0" text-anchor="middle" fill="#111" textLength="17.2" lengthAdjust="spacingAndGlyphs">n=111</text>
<text x="616.7" y="885.5" font-size="5.9" text-anchor="middle" fill="#111" textLength="23.4" lengthAdjust="spacingAndGlyphs">Placebo</text>
<text x="616.75" y="893.5" font-size="6.0" text-anchor="middle" fill="#111" textLength="14.2" lengthAdjust="spacingAndGlyphs">n=51</text>
<text x="648.25" y="885" font-size="5.9" text-anchor="middle" fill="#111" textLength="33" lengthAdjust="spacingAndGlyphs">Denifanstat</text>
<text x="648.25" y="893" font-size="6.0" text-anchor="middle" fill="#111" textLength="17.4" lengthAdjust="spacingAndGlyphs">n=107</text>
<line x1="524.3" y1="897.2" x2="666.7" y2="897.2" stroke="#d9d9d9" stroke-width="0.8"/>
<rect x="529.3" y="897.4" width="26.4" height="16.9" fill="#b6ceda"/>
<rect x="561" y="897.4" width="26.3" height="97.6" fill="#0887a6"/>
<rect x="605" y="897.4" width="26" height="5.3" fill="#b6ceda"/>
<rect x="634.3" y="897.4" width="26.4" height="80.3" fill="#0887a6"/>
<text x="542.3" y="922.7" font-size="6.8" text-anchor="middle" fill="#111">-0.4</text>
<text x="573.3" y="1003.3" font-size="6.8" text-anchor="middle" fill="#111">-2.4</text>
<text x="617.7" y="911.7" font-size="6.8" text-anchor="middle" fill="#111">-0.1</text>
<text x="646.7" y="986.7" font-size="6.8" text-anchor="middle" fill="#111">-2.2</text>
<text x="574.2" y="990.3" font-size="5.4" font-weight="bold" text-anchor="middle" fill="#fff" textLength="23.6" lengthAdjust="spacingAndGlyphs">p=0.001</text>
<text x="647.5" y="973" font-size="5.4" font-weight="bold" text-anchor="middle" fill="#fff" textLength="23.4" lengthAdjust="spacingAndGlyphs">p=0.005</text>
<text transform="translate(516.3 948.8) rotate(-90)" text-anchor="middle" font-size="7.3" textLength="92.7" lengthAdjust="spacingAndGlyphs" fill="#111">LS mean  change (ug/mL)</text>
<text x="791" y="848.5" font-size="7.2" font-weight="bold" text-anchor="middle" fill="#111">LDL-c<tspan font-size="4.6" dy="-2.6">1</tspan></text>
<text x="790.8" y="858.7" font-size="7.0" font-weight="bold" text-anchor="middle" fill="#111" textLength="85.5" lengthAdjust="spacingAndGlyphs">Change from Baseline</text>
<text x="746.4" y="870.6" font-size="7.4" font-weight="bold" text-anchor="middle" fill="#111" textLength="32.6" lengthAdjust="spacingAndGlyphs">Week 26</text>
<text x="831.5" y="870.6" font-size="7.4" font-weight="bold" text-anchor="middle" fill="#111" textLength="32.5" lengthAdjust="spacingAndGlyphs">Week 52</text>
<line x1="723.3" y1="879.2" x2="864" y2="879.2" stroke="#d9d9d9" stroke-width="0.8"/>
<rect x="732.3" y="879.4" width="23.7" height="7.3" fill="#b6ceda"/>
<rect x="760.7" y="879.4" width="24.6" height="61.3" fill="#0887a6"/>
<rect x="802.3" y="879.4" width="24.4" height="43.9" fill="#b6ceda"/>
<rect x="830.7" y="879.4" width="26.6" height="108.9" fill="#0887a6"/>
<text x="743.45" y="895.2" font-size="6.3" font-weight="bold" text-anchor="middle" fill="#111" textLength="16.1" lengthAdjust="spacingAndGlyphs">-1.80</text>
<text x="772.7" y="950.3" font-size="6.3" font-weight="bold" text-anchor="middle" fill="#111" textLength="20.3" lengthAdjust="spacingAndGlyphs">-12.60</text>
<text x="814.4" y="933.2" font-size="6.3" font-weight="bold" text-anchor="middle" fill="#111" textLength="16.1" lengthAdjust="spacingAndGlyphs">-9.10</text>
<text x="842.5" y="997.3" font-size="6.3" font-weight="bold" text-anchor="middle" fill="#111" textLength="20.5" lengthAdjust="spacingAndGlyphs">-23.10</text>
<text x="773.4" y="932.8" font-size="6.5" font-weight="bold" text-anchor="middle" fill="#fff" textLength="23.8" lengthAdjust="spacingAndGlyphs">p&gt;0.05</text>
<text x="845" y="979" font-size="6.5" font-weight="bold" text-anchor="middle" fill="#fff" textLength="24" lengthAdjust="spacingAndGlyphs">p&gt;0.05</text>
<text transform="translate(709.4 931.9) rotate(-90)" text-anchor="middle" font-size="7.3" textLength="76" lengthAdjust="spacingAndGlyphs" fill="#111">Mean change, mg/dL</text>
<rect x="734.6" y="993.8" width="3.9" height="3.5" fill="#b6ceda"/>
<text x="740.6" y="997.3" font-size="5.7" fill="#333" textLength="22.4" lengthAdjust="spacingAndGlyphs">Placebo</text>
<rect x="774.2" y="993.8" width="3.9" height="3.5" fill="#0887a6"/>
<text x="780" y="997.3" font-size="5.7" fill="#333" textLength="32.1" lengthAdjust="spacingAndGlyphs">Denifanstat</text>
<text x="751.8" y="1006" font-size="6.4" text-anchor="middle" fill="#111" textLength="16.1" lengthAdjust="spacingAndGlyphs">n=27</text>
<text x="795.5" y="1006" font-size="6.4" text-anchor="middle" fill="#111" textLength="15.9" lengthAdjust="spacingAndGlyphs">n=32</text>
<text x="736.7" y="1015.7" font-size="5.94" fill="#222">¹For LDL-c, baseline &gt; 100 mg/dL.</text>
<text x="509.3" y="1031.7" font-size="5.88" fill="#222">Mixed-effects Model for Repeated Measures – Two sided at the 0.05 significance level. *p&lt;0.05, **p&lt;0.01, ***p&lt;0.001</text>
<text x="1024.8" y="820.5" font-size="8.5" font-weight="bold" text-anchor="middle" fill="#111">Polyunsaturated Triglycerides</text>
<path d="M924.8 823.6 V906.1 H1106.7" fill="none" stroke="#555" stroke-width="1.2"/>
<line x1="922.1999999999999" y1="824" x2="924.8" y2="824" stroke="#555" stroke-width="0.9"/>
<text x="921.4" y="826.4" font-size="6.8" text-anchor="end" fill="#222">150</text>
<line x1="922.1999999999999" y1="843.5" x2="924.8" y2="843.5" stroke="#555" stroke-width="0.9"/>
<text x="921.4" y="845.9" font-size="6.8" text-anchor="end" fill="#222">100</text>
<line x1="922.1999999999999" y1="863" x2="924.8" y2="863" stroke="#555" stroke-width="0.9"/>
<text x="921.4" y="865.4" font-size="6.8" text-anchor="end" fill="#222">50</text>
<line x1="922.1999999999999" y1="882.7" x2="924.8" y2="882.7" stroke="#555" stroke-width="0.9"/>
<text x="921.4" y="885.1" font-size="6.8" text-anchor="end" fill="#222">0</text>
<line x1="922.1999999999999" y1="902.1" x2="924.8" y2="902.1" stroke="#555" stroke-width="0.9"/>
<text x="921.4" y="904.5" font-size="6.8" text-anchor="end" fill="#222">-50</text>
<line x1="924.8" y1="903.9" x2="924.8" y2="908.7" stroke="#444" stroke-width="0.9"/>
<text x="925.0" y="917.9" font-size="6.9" font-weight="bold" text-anchor="middle" fill="#111">W0</text>
<line x1="939.0" y1="903.9" x2="939.0" y2="908.7" stroke="#444" stroke-width="0.9"/>
<text x="939.2" y="917.9" font-size="6.9" font-weight="bold" text-anchor="middle" fill="#111">W4</text>
<line x1="970.2" y1="903.9" x2="970.2" y2="908.7" stroke="#444" stroke-width="0.9"/>
<text x="970.4000000000001" y="917.9" font-size="6.9" font-weight="bold" text-anchor="middle" fill="#111">W13</text>
<line x1="1016.0" y1="903.9" x2="1016.0" y2="908.7" stroke="#444" stroke-width="0.9"/>
<text x="1016.2" y="917.9" font-size="6.9" font-weight="bold" text-anchor="middle" fill="#111">W26</text>
<line x1="1106.7" y1="903.9" x2="1106.7" y2="908.7" stroke="#444" stroke-width="0.9"/>
<text x="1106.9" y="917.9" font-size="6.9" font-weight="bold" text-anchor="middle" fill="#111">W52</text>
<text transform="translate(907.4 860.8) rotate(-90)" text-anchor="middle" font-size="6.6" fill="#444">% (mean, SD)</text>
<line x1="924.8" y1="882.7" x2="1106.7" y2="882.7" stroke="#444" stroke-width="0.6" stroke-dasharray="1.3 1.1"/>
<path d="M967.6 870.5 H972.8000000000001 M970.2 870.5 V899.2 M967.6 899.2 H972.8000000000001" fill="none" stroke="#dddddd" stroke-width="0.6"/>
<path d="M1013.4 866 H1018.6 M1016.0 866 V896 M1013.4 896 H1018.6" fill="none" stroke="#dddddd" stroke-width="0.6"/>
<path d="M1104.1000000000001 872 H1109.3 M1106.7 872 V902.5 M1104.1000000000001 902.5 H1109.3" fill="none" stroke="#dddddd" stroke-width="0.6"/>
<path d="M936.4 860.5 H941.6 M939.0 860.5 V893.9 M936.4 893.9 H941.6" fill="none" stroke="#93cfea" stroke-width="0.6"/>
<path d="M967.6 846.7 H972.8000000000001 M970.2 846.7 V895.5 M967.6 895.5 H972.8000000000001" fill="none" stroke="#93cfea" stroke-width="0.6"/>
<path d="M1013.4 841.3 H1018.6 M1016.0 841.3 V895.5 M1013.4 895.5 H1018.6" fill="none" stroke="#93cfea" stroke-width="0.6"/>
<path d="M1104.1000000000001 829.9 H1109.3 M1106.7 829.9 V902.1 M1104.1000000000001 902.1 H1109.3" fill="none" stroke="#93cfea" stroke-width="0.6"/>
<polyline points="924.8,882.7 939.0,882.7 970.2,880.4 1016.0,881.1 1106.7,884.3" fill="none" stroke="#bdbdbd" stroke-width="1.0"/>
<circle cx="924.8" cy="882.7" r="2.7" fill="#bdbdbd"/>
<circle cx="939.0" cy="882.7" r="2.7" fill="#bdbdbd"/>
<circle cx="970.2" cy="880.4" r="2.7" fill="#bdbdbd"/>
<circle cx="1016.0" cy="881.1" r="2.7" fill="#bdbdbd"/>
<circle cx="1106.7" cy="884.3" r="2.7" fill="#bdbdbd"/>
<polyline points="924.8,882.7 939.0,877.6 970.2,871.0 1016.0,868.6 1106.7,866.3" fill="none" stroke="#1b93c4" stroke-width="1.0"/>
<rect x="936.5" y="875.1" width="5.0" height="5.0" fill="#1b93c4"/>
<rect x="967.7" y="868.5" width="5.0" height="5.0" fill="#1b93c4"/>
<rect x="1013.5" y="866.1" width="5.0" height="5.0" fill="#1b93c4"/>
<rect x="1104.2" y="863.8" width="5.0" height="5.0" fill="#1b93c4"/>
<circle cx="924.8" cy="882.7" r="2.7" fill="#bdbdbd"/>
<text x="940" y="872" font-size="5.8" font-weight="bold" text-anchor="middle" fill="#111">+13%</text>
<text x="940" y="866.9" font-size="5.4" font-weight="bold" text-anchor="middle" fill="#111">*</text>
<text x="971.2" y="864.8" font-size="5.8" font-weight="bold" text-anchor="middle" fill="#111">+30%</text>
<text x="971.2" y="859.4" font-size="5.4" font-weight="bold" text-anchor="middle" fill="#111">**</text>
<text x="1016.5" y="862.1" font-size="5.8" font-weight="bold" text-anchor="middle" fill="#111">+36%</text>
<text x="1016.5" y="856.7" font-size="5.4" font-weight="bold" text-anchor="middle" fill="#111">***</text>
<text x="1107.2" y="860" font-size="5.8" font-weight="bold" text-anchor="middle" fill="#111">+42%</text>
<text x="1107.2" y="854.1" font-size="5.4" font-weight="bold" text-anchor="middle" fill="#111">***</text>
<text x="940.8" y="890.7" font-size="5.8" font-weight="bold" text-anchor="middle" fill="#111">-0%</text>
<text x="970.9" y="888" font-size="5.8" font-weight="bold" text-anchor="middle" fill="#111">+6%</text>
<text x="1017.6" y="889" font-size="5.8" font-weight="bold" text-anchor="middle" fill="#111">+4%</text>
<text x="1108" y="893.3" font-size="5.8" font-weight="bold" text-anchor="middle" fill="#111">-4%</text>
<line x1="1114.7" y1="865.9" x2="1125.5" y2="865.9" stroke="#1b93c4" stroke-width="1"/>
<rect x="1117.9" y="863.4" width="5.0" height="5.0" fill="#1b93c4"/>
<text x="1128.8" y="868.2" font-size="7.0" font-weight="bold" fill="#111">Deni</text>
<line x1="1114.7" y1="883.7" x2="1125.5" y2="883.7" stroke="#bdbdbd" stroke-width="1"/>
<circle cx="1120.4" cy="883.7" r="2.7" fill="#bdbdbd"/>
<text x="1128.8" y="886.1" font-size="7.0" font-weight="bold" fill="#111">Placebo</text>
<text x="1021.9" y="938.7" font-size="8.47" font-weight="bold" text-anchor="middle" fill="#111">Saturated Triglycerides</text>
<path d="M924.8 940.6 V1023.5 H1106.7" fill="none" stroke="#555" stroke-width="1.2"/>
<line x1="922.1999999999999" y1="941.3" x2="924.8" y2="941.3" stroke="#555" stroke-width="0.9"/>
<text x="921.4" y="943.7" font-size="6.8" text-anchor="end" fill="#222">400</text>
<line x1="922.1999999999999" y1="953.9" x2="924.8" y2="953.9" stroke="#555" stroke-width="0.9"/>
<text x="921.4" y="956.3" font-size="6.8" text-anchor="end" fill="#222">300</text>
<line x1="922.1999999999999" y1="966.4" x2="924.8" y2="966.4" stroke="#555" stroke-width="0.9"/>
<text x="921.4" y="968.8" font-size="6.8" text-anchor="end" fill="#222">200</text>
<line x1="922.1999999999999" y1="979.2" x2="924.8" y2="979.2" stroke="#555" stroke-width="0.9"/>
<text x="921.4" y="981.6" font-size="6.8" text-anchor="end" fill="#222">100</text>
<line x1="922.1999999999999" y1="991.7" x2="924.8" y2="991.7" stroke="#555" stroke-width="0.9"/>
<text x="921.4" y="994.1" font-size="6.8" text-anchor="end" fill="#222">0</text>
<line x1="922.1999999999999" y1="1004.5" x2="924.8" y2="1004.5" stroke="#555" stroke-width="0.9"/>
<text x="921.4" y="1006.9" font-size="6.8" text-anchor="end" fill="#222">-100</text>
<line x1="922.1999999999999" y1="1017.3" x2="924.8" y2="1017.3" stroke="#555" stroke-width="0.9"/>
<text x="921.4" y="1019.7" font-size="6.8" text-anchor="end" fill="#222">-200</text>
<line x1="924.8" y1="1021.3" x2="924.8" y2="1026.1" stroke="#444" stroke-width="0.9"/>
<text x="925.0" y="1035.7" font-size="6.9" font-weight="bold" text-anchor="middle" fill="#111">W0</text>
<line x1="939.0" y1="1021.3" x2="939.0" y2="1026.1" stroke="#444" stroke-width="0.9"/>
<text x="939.2" y="1035.7" font-size="6.9" font-weight="bold" text-anchor="middle" fill="#111">W4</text>
<line x1="970.2" y1="1021.3" x2="970.2" y2="1026.1" stroke="#444" stroke-width="0.9"/>
<text x="970.4000000000001" y="1035.7" font-size="6.9" font-weight="bold" text-anchor="middle" fill="#111">W13</text>
<line x1="1016.0" y1="1021.3" x2="1016.0" y2="1026.1" stroke="#444" stroke-width="0.9"/>
<text x="1016.2" y="1035.7" font-size="6.9" font-weight="bold" text-anchor="middle" fill="#111">W26</text>
<line x1="1106.7" y1="1021.3" x2="1106.7" y2="1026.1" stroke="#444" stroke-width="0.9"/>
<text x="1106.9" y="1035.7" font-size="6.9" font-weight="bold" text-anchor="middle" fill="#111">W52</text>
<text transform="translate(905.6 978) rotate(-90)" text-anchor="middle" font-size="6.6" fill="#444">% (mean, SD)</text>
<line x1="924.8" y1="991.7" x2="1106.7" y2="991.7" stroke="#bbb" stroke-width="0.9" stroke-dasharray="1.3 1.1"/>
<path d="M936.4 976 H941.6 M939.0 976 V1001.3 M936.4 1001.3 H941.6" fill="none" stroke="#dddddd" stroke-width="0.6"/>
<path d="M967.6 970.7 H972.8000000000001 M970.2 970.7 V1002.7 M967.6 1002.7 H972.8000000000001" fill="none" stroke="#dddddd" stroke-width="0.6"/>
<path d="M1013.4 966.7 H1018.6 M1016.0 966.7 V1005.3 M1013.4 1005.3 H1018.6" fill="none" stroke="#dddddd" stroke-width="0.6"/>
<path d="M1104.1000000000001 964.5 H1109.3 M1106.7 964.5 V1007.5 M1104.1000000000001 1007.5 H1109.3" fill="none" stroke="#dddddd" stroke-width="0.6"/>
<path d="M936.4 963.2 H941.6 M939.0 963.2 V1009.3 M936.4 1009.3 H941.6" fill="none" stroke="#93cfea" stroke-width="0.6"/>
<path d="M967.6 943.5 H972.8000000000001 M970.2 943.5 V1023.2 M967.6 1023.2 H972.8000000000001" fill="none" stroke="#93cfea" stroke-width="0.6"/>
<path d="M1013.4 960.5 H1018.6 M1016.0 960.5 V1011.5 M1013.4 1011.5 H1018.6" fill="none" stroke="#93cfea" stroke-width="0.6"/>
<path d="M1104.1000000000001 969.3 H1109.3 M1106.7 969.3 V1004.5 M1104.1000000000001 1004.5 H1109.3" fill="none" stroke="#93cfea" stroke-width="0.6"/>
<polyline points="924.8,991.7 939.0,986.0 970.2,983.1 1016.0,986.0 1106.7,986.6" fill="none" stroke="#1b93c4" stroke-width="1.0"/>
<rect x="936.5" y="983.5" width="5.0" height="5.0" fill="#1b93c4"/>
<rect x="967.7" y="980.6" width="5.0" height="5.0" fill="#1b93c4"/>
<rect x="1013.5" y="983.5" width="5.0" height="5.0" fill="#1b93c4"/>
<rect x="1104.2" y="984.1" width="5.0" height="5.0" fill="#1b93c4"/>
<polyline points="924.8,991.7 939.0,989.2 970.2,986.9 1016.0,985.6 1106.7,986.0" fill="none" stroke="#bdbdbd" stroke-width="1.0"/>
<circle cx="924.8" cy="991.7" r="2.7" fill="#bdbdbd"/>
<circle cx="939.0" cy="989.2" r="2.7" fill="#bdbdbd"/>
<circle cx="970.2" cy="986.9" r="2.7" fill="#bdbdbd"/>
<circle cx="1016.0" cy="985.6" r="2.7" fill="#bdbdbd"/>
<circle cx="1106.7" cy="986.0" r="2.7" fill="#bdbdbd"/>
<line x1="1114.7" y1="983.2" x2="1125.5" y2="983.2" stroke="#bdbdbd" stroke-width="1"/>
<circle cx="1120.4" cy="983.2" r="2.7" fill="#bdbdbd"/>
<text x="1128.8" y="985.6" font-size="7.0" font-weight="bold" fill="#111">Placebo</text>
<line x1="1114.7" y1="991.6" x2="1125.5" y2="991.6" stroke="#1b93c4" stroke-width="1"/>
<rect x="1117.9" y="989.1" width="5.0" height="5.0" fill="#1b93c4"/>
<text x="1128.8" y="994" font-size="7.0" font-weight="bold" fill="#111">Deni</text></svg>
<div style="position:absolute;top:1092px;font-size:13.55px;line-height:15px;height:15px;white-space:nowrap;color:#000;left:18.7px;">•</div>
<div style="position:absolute;top:1092px;font-size:13.55px;line-height:15px;height:15px;white-space:nowrap;color:#000;left:30.6px;">Denifanstat demonstrated significant improvement in MASH resolution and fibrosis, including in difficult-to-treat subpopulations, in Phase 2b FASCINATE-2 study</div>
<div style="position:absolute;top:1113px;font-size:13.55px;line-height:15px;height:15px;white-space:nowrap;color:#000;left:18.7px;">•</div>
<div style="position:absolute;top:1113px;font-size:13.55px;line-height:15px;height:15px;white-space:nowrap;color:#000;left:30.6px;">A post-hoc lipid analysis showed that denifanstat lowered LDL-cholesterol and increased polyunsaturated TG, providing potential cardiovascular benefits in MASH patients</div>
<div style="position:absolute;top:1135px;font-size:13.55px;line-height:15px;height:15px;white-space:nowrap;color:#000;left:18.7px;">•</div>
<div style="position:absolute;top:1135px;font-size:13.55px;line-height:15px;height:15px;white-space:nowrap;color:#000;left:30.6px;">These data demonstrate the unique mechanism of action of denifanstat and support further clinical evaluation for denifanstat in MASH</div>
<div style="position:absolute;top:1164px;font-size:8.45px;line-height:10px;height:10px;white-space:nowrap;color:#000;left:13.4px;text-decoration:underline;text-underline-offset:1px;text-decoration-thickness:0.6px;">References</div>
<div style="position:absolute;top:1174px;font-size:8.45px;line-height:10px;height:10px;white-space:nowrap;color:#000;left:13.4px;">1)</div>
<div style="position:absolute;top:1174px;font-size:8.45px;line-height:10px;height:10px;white-space:nowrap;color:#000;left:26px;">O’Farrell et al., 2022. Scientific Reports. doi:10.1038/s41598-022-19459-z</div>
<div style="position:absolute;top:1184px;font-size:8.45px;line-height:10px;height:10px;white-space:nowrap;color:#000;left:13.4px;">2)</div>
<div style="position:absolute;top:1184px;font-size:8.45px;line-height:10px;height:10px;white-space:nowrap;color:#000;left:26px;">Loomba et al., 2024. The Lancet Gastroenterology &amp; Hepatology. doi:10.1016/S2468-1253(24)00246-2</div>
<div style="position:absolute;top:1164px;font-size:8.45px;line-height:10px;height:10px;white-space:nowrap;color:#000;left:599.5px;text-decoration:underline;text-underline-offset:1px;text-decoration-thickness:0.6px;">Acknowledgements</div>
<div style="position:absolute;top:1174px;font-size:8.45px;line-height:10px;height:10px;white-space:nowrap;color:#000;left:599.5px;">We are grateful to the clinical site teams and patients for participation in denifanstat clinical studies.</div>
</body></html>
